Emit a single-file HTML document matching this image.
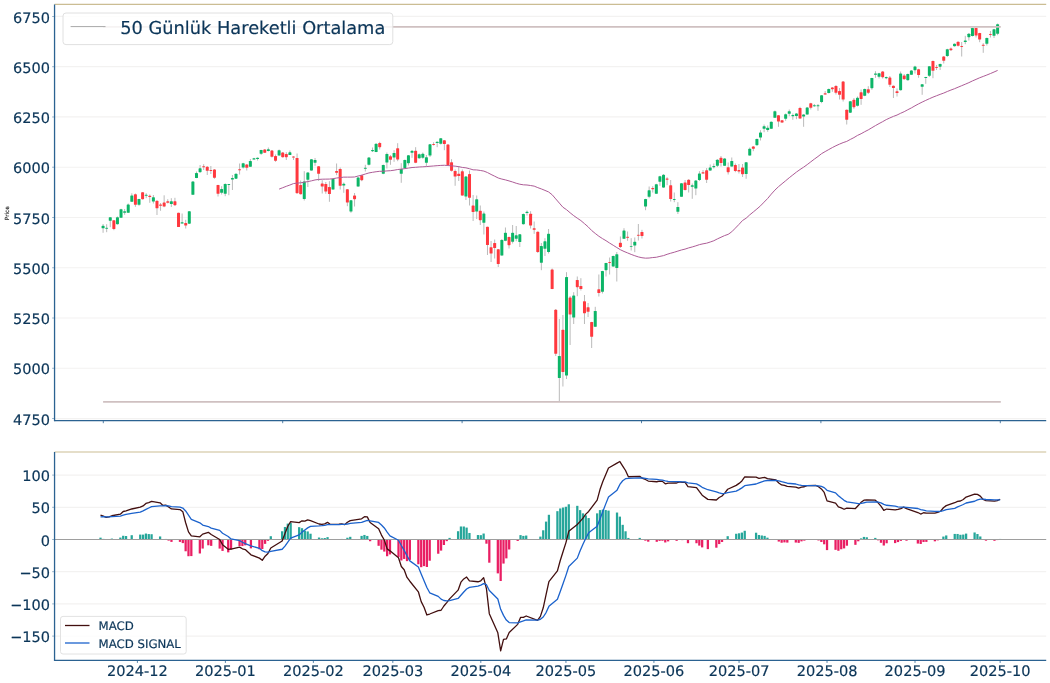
<!DOCTYPE html>
<html lang="tr"><head><meta charset="utf-8"><title>Grafik</title><style>html,body{margin:0;padding:0;background:#fff}svg{display:block}</style></head><body>
<svg width="1050" height="683" viewBox="0 0 1050 683" font-family="'DejaVu Sans', 'Liberation Sans', sans-serif" text-rendering="geometricPrecision">
<rect width="1050" height="683" fill="#fff"/>
<line x1="54.55" x2="1046.2" y1="418.53" y2="418.53" stroke="#f3f2f1" stroke-width="1.2"/>
<line x1="54.55" x2="1046.2" y1="368.27" y2="368.27" stroke="#f3f2f1" stroke-width="1.2"/>
<line x1="54.55" x2="1046.2" y1="318.01" y2="318.01" stroke="#f3f2f1" stroke-width="1.2"/>
<line x1="54.55" x2="1046.2" y1="267.75" y2="267.75" stroke="#f3f2f1" stroke-width="1.2"/>
<line x1="54.55" x2="1046.2" y1="217.49" y2="217.49" stroke="#f3f2f1" stroke-width="1.2"/>
<line x1="54.55" x2="1046.2" y1="167.23" y2="167.23" stroke="#f3f2f1" stroke-width="1.2"/>
<line x1="54.55" x2="1046.2" y1="116.97" y2="116.97" stroke="#f3f2f1" stroke-width="1.2"/>
<line x1="54.55" x2="1046.2" y1="66.71" y2="66.71" stroke="#f3f2f1" stroke-width="1.2"/>
<line x1="54.55" x2="1046.2" y1="16.45" y2="16.45" stroke="#f3f2f1" stroke-width="1.2"/>
<line x1="54.55" x2="1046.2" y1="636.10" y2="636.10" stroke="#f3f2f1" stroke-width="1.2"/>
<line x1="54.55" x2="1046.2" y1="603.90" y2="603.90" stroke="#f3f2f1" stroke-width="1.2"/>
<line x1="54.55" x2="1046.2" y1="571.70" y2="571.70" stroke="#f3f2f1" stroke-width="1.2"/>
<line x1="54.55" x2="1046.2" y1="507.30" y2="507.30" stroke="#f3f2f1" stroke-width="1.2"/>
<line x1="54.55" x2="1046.2" y1="475.10" y2="475.10" stroke="#f3f2f1" stroke-width="1.2"/>
<line x1="103.08" x2="103.08" y1="224.00" y2="232.80" stroke="#b2b2b2" stroke-width="0.9"/>
<rect x="101.58" y="225.80" width="3.0" height="2.50" fill="#0cb567" rx="0.6"/>
<line x1="106.67" x2="106.67" y1="224.20" y2="232.20" stroke="#b2b2b2" stroke-width="0.9"/>
<rect x="105.17" y="227.80" width="3.0" height="0.90" fill="#0cb567" rx="0.6"/>
<line x1="110.27" x2="110.27" y1="217.20" y2="227.20" stroke="#b2b2b2" stroke-width="0.9"/>
<rect x="108.77" y="217.20" width="3.0" height="3.60" fill="#0cb567" rx="0.6"/>
<line x1="113.86" x2="113.86" y1="220.20" y2="230.20" stroke="#b2b2b2" stroke-width="0.9"/>
<rect x="112.36" y="220.20" width="3.0" height="8.80" fill="#ff383e" rx="0.6"/>
<line x1="117.45" x2="117.45" y1="216.50" y2="224.50" stroke="#b2b2b2" stroke-width="0.9"/>
<rect x="115.95" y="217.20" width="3.0" height="7.00" fill="#0cb567" rx="0.6"/>
<line x1="121.04" x2="121.04" y1="208.80" y2="218.00" stroke="#b2b2b2" stroke-width="0.9"/>
<rect x="119.54" y="209.20" width="3.0" height="8.60" fill="#0cb567" rx="0.6"/>
<line x1="124.63" x2="124.63" y1="209.00" y2="214.80" stroke="#b2b2b2" stroke-width="0.9"/>
<rect x="123.13" y="211.20" width="3.0" height="1.60" fill="#0cb567" rx="0.6"/>
<line x1="128.23" x2="128.23" y1="203.50" y2="213.00" stroke="#b2b2b2" stroke-width="0.9"/>
<rect x="126.73" y="204.50" width="3.0" height="8.30" fill="#0cb567" rx="0.6"/>
<line x1="131.82" x2="131.82" y1="193.30" y2="202.00" stroke="#b2b2b2" stroke-width="0.9"/>
<rect x="130.32" y="195.50" width="3.0" height="6.30" fill="#0cb567" rx="0.6"/>
<line x1="135.41" x2="135.41" y1="193.50" y2="206.80" stroke="#b2b2b2" stroke-width="0.9"/>
<rect x="133.91" y="194.20" width="3.0" height="10.60" fill="#ff383e" rx="0.6"/>
<line x1="139.00" x2="139.00" y1="198.80" y2="205.80" stroke="#b2b2b2" stroke-width="0.9"/>
<rect x="137.50" y="199.00" width="3.0" height="5.80" fill="#0cb567" rx="0.6"/>
<line x1="142.60" x2="142.60" y1="192.00" y2="199.50" stroke="#b2b2b2" stroke-width="0.9"/>
<rect x="141.10" y="192.20" width="3.0" height="7.00" fill="#ff383e" rx="0.6"/>
<line x1="146.19" x2="146.19" y1="193.20" y2="198.20" stroke="#b2b2b2" stroke-width="0.9"/>
<rect x="144.69" y="194.70" width="3.0" height="1.10" fill="#0cb567" rx="0.6"/>
<line x1="149.78" x2="149.78" y1="194.50" y2="202.80" stroke="#b2b2b2" stroke-width="0.9"/>
<rect x="148.28" y="195.80" width="3.0" height="1.20" fill="#ff383e" rx="0.6"/>
<line x1="153.38" x2="153.38" y1="195.00" y2="203.50" stroke="#b2b2b2" stroke-width="0.9"/>
<rect x="151.88" y="197.20" width="3.0" height="4.30" fill="#0cb567" rx="0.6"/>
<line x1="156.97" x2="156.97" y1="200.50" y2="215.00" stroke="#b2b2b2" stroke-width="0.9"/>
<rect x="155.47" y="200.80" width="3.0" height="7.50" fill="#ff383e" rx="0.6"/>
<line x1="160.56" x2="160.56" y1="203.00" y2="210.80" stroke="#b2b2b2" stroke-width="0.9"/>
<rect x="159.06" y="204.50" width="3.0" height="1.30" fill="#ff383e" rx="0.6"/>
<line x1="164.15" x2="164.15" y1="195.30" y2="207.20" stroke="#b2b2b2" stroke-width="0.9"/>
<rect x="162.65" y="202.50" width="3.0" height="4.00" fill="#ff383e" rx="0.6"/>
<line x1="167.75" x2="167.75" y1="199.20" y2="203.50" stroke="#b2b2b2" stroke-width="0.9"/>
<rect x="166.25" y="201.20" width="3.0" height="1.60" fill="#ff383e" rx="0.6"/>
<line x1="171.34" x2="171.34" y1="198.20" y2="207.00" stroke="#b2b2b2" stroke-width="0.9"/>
<rect x="169.84" y="201.20" width="3.0" height="2.80" fill="#0cb567" rx="0.6"/>
<line x1="174.93" x2="174.93" y1="197.80" y2="205.80" stroke="#b2b2b2" stroke-width="0.9"/>
<rect x="173.43" y="201.20" width="3.0" height="4.00" fill="#ff383e" rx="0.6"/>
<line x1="178.52" x2="178.52" y1="212.80" y2="227.00" stroke="#b2b2b2" stroke-width="0.9"/>
<rect x="177.02" y="212.80" width="3.0" height="14.20" fill="#ff383e" rx="0.6"/>
<line x1="182.12" x2="182.12" y1="213.50" y2="223.80" stroke="#b2b2b2" stroke-width="0.9"/>
<rect x="180.62" y="222.20" width="3.0" height="1.30" fill="#0cb567" rx="0.6"/>
<line x1="185.71" x2="185.71" y1="219.80" y2="228.50" stroke="#b2b2b2" stroke-width="0.9"/>
<rect x="184.21" y="223.00" width="3.0" height="2.50" fill="#ff383e" rx="0.6"/>
<line x1="189.30" x2="189.30" y1="211.00" y2="224.00" stroke="#b2b2b2" stroke-width="0.9"/>
<rect x="187.80" y="211.20" width="3.0" height="12.50" fill="#0cb567" rx="0.6"/>
<line x1="192.89" x2="192.89" y1="181.20" y2="195.00" stroke="#b2b2b2" stroke-width="0.9"/>
<rect x="191.39" y="181.50" width="3.0" height="13.30" fill="#0cb567" rx="0.6"/>
<line x1="196.49" x2="196.49" y1="171.50" y2="178.20" stroke="#b2b2b2" stroke-width="0.9"/>
<rect x="194.99" y="173.00" width="3.0" height="5.00" fill="#0cb567" rx="0.6"/>
<line x1="200.08" x2="200.08" y1="165.00" y2="172.50" stroke="#b2b2b2" stroke-width="0.9"/>
<rect x="198.58" y="168.30" width="3.0" height="3.90" fill="#0cb567" rx="0.6"/>
<line x1="203.67" x2="203.67" y1="164.20" y2="170.00" stroke="#b2b2b2" stroke-width="0.9"/>
<rect x="202.17" y="166.20" width="3.0" height="1.00" fill="#ff383e" rx="0.6"/>
<line x1="207.26" x2="207.26" y1="166.20" y2="175.00" stroke="#b2b2b2" stroke-width="0.9"/>
<rect x="205.76" y="166.80" width="3.0" height="4.00" fill="#ff383e" rx="0.6"/>
<line x1="210.85" x2="210.85" y1="166.00" y2="174.00" stroke="#b2b2b2" stroke-width="0.9"/>
<rect x="209.35" y="170.00" width="3.0" height="0.90" fill="#ff383e" rx="0.6"/>
<line x1="214.45" x2="214.45" y1="169.00" y2="178.80" stroke="#b2b2b2" stroke-width="0.9"/>
<rect x="212.95" y="169.50" width="3.0" height="8.30" fill="#ff383e" rx="0.6"/>
<line x1="218.04" x2="218.04" y1="184.80" y2="196.50" stroke="#b2b2b2" stroke-width="0.9"/>
<rect x="216.54" y="185.00" width="3.0" height="8.80" fill="#ff383e" rx="0.6"/>
<line x1="221.63" x2="221.63" y1="186.20" y2="194.50" stroke="#b2b2b2" stroke-width="0.9"/>
<rect x="220.13" y="189.00" width="3.0" height="3.80" fill="#0cb567" rx="0.6"/>
<line x1="225.22" x2="225.22" y1="183.30" y2="196.20" stroke="#b2b2b2" stroke-width="0.9"/>
<rect x="223.72" y="184.00" width="3.0" height="9.80" fill="#0cb567" rx="0.6"/>
<line x1="228.82" x2="228.82" y1="184.00" y2="195.20" stroke="#b2b2b2" stroke-width="0.9"/>
<rect x="227.32" y="184.00" width="3.0" height="0.90" fill="#0cb567" rx="0.6"/>
<line x1="232.41" x2="232.41" y1="175.00" y2="190.00" stroke="#b2b2b2" stroke-width="0.9"/>
<rect x="230.91" y="178.00" width="3.0" height="1.60" fill="#0cb567" rx="0.6"/>
<line x1="236.00" x2="236.00" y1="173.50" y2="179.00" stroke="#b2b2b2" stroke-width="0.9"/>
<rect x="234.50" y="173.80" width="3.0" height="4.90" fill="#0cb567" rx="0.6"/>
<line x1="239.59" x2="239.59" y1="163.50" y2="174.50" stroke="#b2b2b2" stroke-width="0.9"/>
<rect x="238.09" y="169.20" width="3.0" height="1.00" fill="#ff383e" rx="0.6"/>
<line x1="243.19" x2="243.19" y1="162.80" y2="168.50" stroke="#b2b2b2" stroke-width="0.9"/>
<rect x="241.69" y="163.20" width="3.0" height="4.30" fill="#0cb567" rx="0.6"/>
<line x1="246.78" x2="246.78" y1="164.00" y2="170.50" stroke="#b2b2b2" stroke-width="0.9"/>
<rect x="245.28" y="164.50" width="3.0" height="3.30" fill="#ff383e" rx="0.6"/>
<line x1="250.37" x2="250.37" y1="159.00" y2="167.00" stroke="#b2b2b2" stroke-width="0.9"/>
<rect x="248.87" y="161.00" width="3.0" height="5.80" fill="#0cb567" rx="0.6"/>
<line x1="253.96" x2="253.96" y1="157.80" y2="159.80" stroke="#b2b2b2" stroke-width="0.9"/>
<rect x="252.46" y="158.20" width="3.0" height="1.30" fill="#0cb567" rx="0.6"/>
<line x1="257.56" x2="257.56" y1="157.50" y2="160.50" stroke="#b2b2b2" stroke-width="0.9"/>
<rect x="256.06" y="157.80" width="3.0" height="1.20" fill="#0cb567" rx="0.6"/>
<line x1="261.15" x2="261.15" y1="149.80" y2="154.80" stroke="#b2b2b2" stroke-width="0.9"/>
<rect x="259.65" y="150.00" width="3.0" height="3.80" fill="#0cb567" rx="0.6"/>
<line x1="264.74" x2="264.74" y1="149.00" y2="153.00" stroke="#b2b2b2" stroke-width="0.9"/>
<rect x="263.24" y="149.50" width="3.0" height="3.30" fill="#ff383e" rx="0.6"/>
<line x1="268.33" x2="268.33" y1="147.50" y2="151.50" stroke="#b2b2b2" stroke-width="0.9"/>
<rect x="266.83" y="149.30" width="3.0" height="1.70" fill="#0cb567" rx="0.6"/>
<line x1="271.93" x2="271.93" y1="150.00" y2="157.50" stroke="#b2b2b2" stroke-width="0.9"/>
<rect x="270.43" y="150.50" width="3.0" height="6.30" fill="#ff383e" rx="0.6"/>
<line x1="275.52" x2="275.52" y1="154.50" y2="161.80" stroke="#b2b2b2" stroke-width="0.9"/>
<rect x="274.02" y="156.00" width="3.0" height="4.80" fill="#ff383e" rx="0.6"/>
<line x1="279.11" x2="279.11" y1="149.50" y2="155.80" stroke="#b2b2b2" stroke-width="0.9"/>
<rect x="277.61" y="150.20" width="3.0" height="5.30" fill="#0cb567" rx="0.6"/>
<line x1="282.70" x2="282.70" y1="152.00" y2="157.50" stroke="#b2b2b2" stroke-width="0.9"/>
<rect x="281.20" y="152.50" width="3.0" height="4.70" fill="#ff383e" rx="0.6"/>
<line x1="286.30" x2="286.30" y1="152.20" y2="160.00" stroke="#b2b2b2" stroke-width="0.9"/>
<rect x="284.80" y="154.00" width="3.0" height="3.20" fill="#ff383e" rx="0.6"/>
<line x1="289.89" x2="289.89" y1="150.50" y2="155.00" stroke="#b2b2b2" stroke-width="0.9"/>
<rect x="288.39" y="152.30" width="3.0" height="2.70" fill="#0cb567" rx="0.6"/>
<line x1="293.48" x2="293.48" y1="156.20" y2="160.00" stroke="#b2b2b2" stroke-width="0.9"/>
<rect x="291.98" y="156.50" width="3.0" height="1.00" fill="#ff383e" rx="0.6"/>
<line x1="297.07" x2="297.07" y1="153.50" y2="193.50" stroke="#b2b2b2" stroke-width="0.9"/>
<rect x="295.57" y="158.00" width="3.0" height="35.20" fill="#ff383e" rx="0.6"/>
<line x1="300.67" x2="300.67" y1="180.50" y2="194.50" stroke="#b2b2b2" stroke-width="0.9"/>
<rect x="299.17" y="185.00" width="3.0" height="9.20" fill="#ff383e" rx="0.6"/>
<line x1="304.26" x2="304.26" y1="171.20" y2="200.50" stroke="#b2b2b2" stroke-width="0.9"/>
<rect x="302.76" y="181.50" width="3.0" height="17.50" fill="#0cb567" rx="0.6"/>
<line x1="307.85" x2="307.85" y1="172.20" y2="187.00" stroke="#b2b2b2" stroke-width="0.9"/>
<rect x="306.35" y="172.50" width="3.0" height="7.30" fill="#0cb567" rx="0.6"/>
<line x1="311.44" x2="311.44" y1="159.00" y2="170.80" stroke="#b2b2b2" stroke-width="0.9"/>
<rect x="309.94" y="159.30" width="3.0" height="11.20" fill="#0cb567" rx="0.6"/>
<line x1="315.04" x2="315.04" y1="158.00" y2="165.80" stroke="#b2b2b2" stroke-width="0.9"/>
<rect x="313.54" y="160.00" width="3.0" height="2.80" fill="#0cb567" rx="0.6"/>
<line x1="318.63" x2="318.63" y1="166.00" y2="181.00" stroke="#b2b2b2" stroke-width="0.9"/>
<rect x="317.13" y="166.30" width="3.0" height="7.50" fill="#ff383e" rx="0.6"/>
<line x1="322.22" x2="322.22" y1="180.20" y2="193.50" stroke="#b2b2b2" stroke-width="0.9"/>
<rect x="320.72" y="183.50" width="3.0" height="3.00" fill="#ff383e" rx="0.6"/>
<line x1="325.81" x2="325.81" y1="182.00" y2="193.80" stroke="#b2b2b2" stroke-width="0.9"/>
<rect x="324.31" y="184.00" width="3.0" height="7.50" fill="#ff383e" rx="0.6"/>
<line x1="329.41" x2="329.41" y1="181.20" y2="201.80" stroke="#b2b2b2" stroke-width="0.9"/>
<rect x="327.91" y="187.00" width="3.0" height="7.00" fill="#ff383e" rx="0.6"/>
<line x1="333.00" x2="333.00" y1="178.50" y2="189.80" stroke="#b2b2b2" stroke-width="0.9"/>
<rect x="331.50" y="179.00" width="3.0" height="10.50" fill="#0cb567" rx="0.6"/>
<line x1="336.59" x2="336.59" y1="163.50" y2="175.20" stroke="#b2b2b2" stroke-width="0.9"/>
<rect x="335.09" y="171.00" width="3.0" height="1.80" fill="#ff383e" rx="0.6"/>
<line x1="340.19" x2="340.19" y1="167.50" y2="189.50" stroke="#b2b2b2" stroke-width="0.9"/>
<rect x="338.69" y="169.00" width="3.0" height="16.80" fill="#ff383e" rx="0.6"/>
<line x1="343.78" x2="343.78" y1="182.50" y2="192.80" stroke="#b2b2b2" stroke-width="0.9"/>
<rect x="342.28" y="183.70" width="3.0" height="1.80" fill="#0cb567" rx="0.6"/>
<line x1="347.37" x2="347.37" y1="189.00" y2="206.20" stroke="#b2b2b2" stroke-width="0.9"/>
<rect x="345.87" y="189.20" width="3.0" height="13.30" fill="#ff383e" rx="0.6"/>
<line x1="350.96" x2="350.96" y1="200.00" y2="212.80" stroke="#b2b2b2" stroke-width="0.9"/>
<rect x="349.46" y="200.20" width="3.0" height="11.30" fill="#0cb567" rx="0.6"/>
<line x1="354.56" x2="354.56" y1="193.00" y2="206.50" stroke="#b2b2b2" stroke-width="0.9"/>
<rect x="353.06" y="195.50" width="3.0" height="3.70" fill="#ff383e" rx="0.6"/>
<line x1="358.15" x2="358.15" y1="177.00" y2="186.80" stroke="#b2b2b2" stroke-width="0.9"/>
<rect x="356.65" y="177.50" width="3.0" height="9.00" fill="#0cb567" rx="0.6"/>
<line x1="361.74" x2="361.74" y1="174.80" y2="181.20" stroke="#b2b2b2" stroke-width="0.9"/>
<rect x="360.24" y="175.20" width="3.0" height="5.00" fill="#ff383e" rx="0.6"/>
<line x1="365.33" x2="365.33" y1="164.80" y2="171.50" stroke="#b2b2b2" stroke-width="0.9"/>
<rect x="363.83" y="167.80" width="3.0" height="1.00" fill="#0cb567" rx="0.6"/>
<line x1="368.92" x2="368.92" y1="157.20" y2="165.50" stroke="#b2b2b2" stroke-width="0.9"/>
<rect x="367.42" y="157.50" width="3.0" height="7.30" fill="#0cb567" rx="0.6"/>
<line x1="372.52" x2="372.52" y1="147.50" y2="152.00" stroke="#b2b2b2" stroke-width="0.9"/>
<rect x="371.02" y="150.00" width="3.0" height="1.20" fill="#0cb567" rx="0.6"/>
<line x1="376.11" x2="376.11" y1="143.50" y2="152.20" stroke="#b2b2b2" stroke-width="0.9"/>
<rect x="374.61" y="143.80" width="3.0" height="8.20" fill="#0cb567" rx="0.6"/>
<line x1="379.70" x2="379.70" y1="141.80" y2="149.50" stroke="#b2b2b2" stroke-width="0.9"/>
<rect x="378.20" y="143.00" width="3.0" height="4.20" fill="#ff383e" rx="0.6"/>
<line x1="383.29" x2="383.29" y1="164.50" y2="174.20" stroke="#b2b2b2" stroke-width="0.9"/>
<rect x="381.79" y="165.00" width="3.0" height="8.80" fill="#0cb567" rx="0.6"/>
<line x1="386.89" x2="386.89" y1="152.50" y2="168.50" stroke="#b2b2b2" stroke-width="0.9"/>
<rect x="385.39" y="154.00" width="3.0" height="8.50" fill="#0cb567" rx="0.6"/>
<line x1="390.48" x2="390.48" y1="155.00" y2="164.80" stroke="#b2b2b2" stroke-width="0.9"/>
<rect x="388.98" y="156.20" width="3.0" height="3.60" fill="#ff383e" rx="0.6"/>
<line x1="394.07" x2="394.07" y1="150.20" y2="161.80" stroke="#b2b2b2" stroke-width="0.9"/>
<rect x="392.57" y="153.00" width="3.0" height="4.50" fill="#0cb567" rx="0.6"/>
<line x1="397.66" x2="397.66" y1="143.20" y2="161.20" stroke="#b2b2b2" stroke-width="0.9"/>
<rect x="396.16" y="148.20" width="3.0" height="11.30" fill="#ff383e" rx="0.6"/>
<line x1="401.26" x2="401.26" y1="163.20" y2="182.80" stroke="#b2b2b2" stroke-width="0.9"/>
<rect x="399.76" y="169.00" width="3.0" height="4.80" fill="#0cb567" rx="0.6"/>
<line x1="404.85" x2="404.85" y1="159.50" y2="168.50" stroke="#b2b2b2" stroke-width="0.9"/>
<rect x="403.35" y="160.00" width="3.0" height="8.20" fill="#0cb567" rx="0.6"/>
<line x1="408.44" x2="408.44" y1="155.00" y2="165.50" stroke="#b2b2b2" stroke-width="0.9"/>
<rect x="406.94" y="155.30" width="3.0" height="7.90" fill="#0cb567" rx="0.6"/>
<line x1="412.03" x2="412.03" y1="150.50" y2="157.80" stroke="#b2b2b2" stroke-width="0.9"/>
<rect x="410.53" y="150.80" width="3.0" height="2.00" fill="#0cb567" rx="0.6"/>
<line x1="415.63" x2="415.63" y1="147.20" y2="163.20" stroke="#b2b2b2" stroke-width="0.9"/>
<rect x="414.13" y="150.80" width="3.0" height="12.00" fill="#ff383e" rx="0.6"/>
<line x1="419.22" x2="419.22" y1="153.50" y2="158.80" stroke="#b2b2b2" stroke-width="0.9"/>
<rect x="417.72" y="154.20" width="3.0" height="4.10" fill="#0cb567" rx="0.6"/>
<line x1="422.81" x2="422.81" y1="152.50" y2="158.80" stroke="#b2b2b2" stroke-width="0.9"/>
<rect x="421.31" y="153.80" width="3.0" height="4.00" fill="#0cb567" rx="0.6"/>
<line x1="426.40" x2="426.40" y1="155.00" y2="166.50" stroke="#b2b2b2" stroke-width="0.9"/>
<rect x="424.90" y="157.20" width="3.0" height="5.60" fill="#0cb567" rx="0.6"/>
<line x1="430.00" x2="430.00" y1="144.00" y2="157.00" stroke="#b2b2b2" stroke-width="0.9"/>
<rect x="428.50" y="144.30" width="3.0" height="11.20" fill="#0cb567" rx="0.6"/>
<line x1="433.59" x2="433.59" y1="142.20" y2="145.50" stroke="#b2b2b2" stroke-width="0.9"/>
<rect x="432.09" y="144.00" width="3.0" height="0.90" fill="#ff383e" rx="0.6"/>
<line x1="437.18" x2="437.18" y1="141.50" y2="147.20" stroke="#b2b2b2" stroke-width="0.9"/>
<rect x="435.68" y="141.70" width="3.0" height="1.30" fill="#0cb567" rx="0.6"/>
<line x1="440.77" x2="440.77" y1="138.00" y2="144.50" stroke="#b2b2b2" stroke-width="0.9"/>
<rect x="439.27" y="138.20" width="3.0" height="5.60" fill="#0cb567" rx="0.6"/>
<line x1="444.37" x2="444.37" y1="140.00" y2="150.20" stroke="#b2b2b2" stroke-width="0.9"/>
<rect x="442.87" y="140.30" width="3.0" height="3.70" fill="#ff383e" rx="0.6"/>
<line x1="447.96" x2="447.96" y1="144.20" y2="165.20" stroke="#b2b2b2" stroke-width="0.9"/>
<rect x="446.46" y="144.50" width="3.0" height="20.50" fill="#ff383e" rx="0.6"/>
<line x1="451.55" x2="451.55" y1="159.20" y2="171.50" stroke="#b2b2b2" stroke-width="0.9"/>
<rect x="450.05" y="162.20" width="3.0" height="8.60" fill="#ff383e" rx="0.6"/>
<line x1="455.14" x2="455.14" y1="169.50" y2="185.80" stroke="#b2b2b2" stroke-width="0.9"/>
<rect x="453.64" y="171.00" width="3.0" height="5.50" fill="#ff383e" rx="0.6"/>
<line x1="458.74" x2="458.74" y1="166.00" y2="181.00" stroke="#b2b2b2" stroke-width="0.9"/>
<rect x="457.24" y="173.80" width="3.0" height="2.20" fill="#ff383e" rx="0.6"/>
<line x1="462.33" x2="462.33" y1="169.50" y2="195.80" stroke="#b2b2b2" stroke-width="0.9"/>
<rect x="460.83" y="171.20" width="3.0" height="24.30" fill="#ff383e" rx="0.6"/>
<line x1="465.92" x2="465.92" y1="176.00" y2="200.00" stroke="#b2b2b2" stroke-width="0.9"/>
<rect x="464.42" y="176.50" width="3.0" height="20.00" fill="#0cb567" rx="0.6"/>
<line x1="469.51" x2="469.51" y1="170.50" y2="205.50" stroke="#b2b2b2" stroke-width="0.9"/>
<rect x="468.01" y="174.00" width="3.0" height="23.80" fill="#ff383e" rx="0.6"/>
<line x1="473.11" x2="473.11" y1="195.00" y2="221.00" stroke="#b2b2b2" stroke-width="0.9"/>
<rect x="471.61" y="205.50" width="3.0" height="6.50" fill="#ff383e" rx="0.6"/>
<line x1="476.70" x2="476.70" y1="195.50" y2="219.00" stroke="#b2b2b2" stroke-width="0.9"/>
<rect x="475.20" y="199.20" width="3.0" height="12.30" fill="#0cb567" rx="0.6"/>
<line x1="480.29" x2="480.29" y1="205.50" y2="225.00" stroke="#b2b2b2" stroke-width="0.9"/>
<rect x="478.79" y="210.80" width="3.0" height="9.40" fill="#ff383e" rx="0.6"/>
<line x1="483.88" x2="483.88" y1="211.50" y2="234.50" stroke="#b2b2b2" stroke-width="0.9"/>
<rect x="482.38" y="213.50" width="3.0" height="9.30" fill="#0cb567" rx="0.6"/>
<line x1="487.48" x2="487.48" y1="226.80" y2="255.00" stroke="#b2b2b2" stroke-width="0.9"/>
<rect x="485.98" y="226.80" width="3.0" height="18.20" fill="#ff383e" rx="0.6"/>
<line x1="491.07" x2="491.07" y1="241.00" y2="262.00" stroke="#b2b2b2" stroke-width="0.9"/>
<rect x="489.57" y="247.20" width="3.0" height="6.30" fill="#ff383e" rx="0.6"/>
<line x1="494.66" x2="494.66" y1="239.50" y2="258.50" stroke="#b2b2b2" stroke-width="0.9"/>
<rect x="493.16" y="243.00" width="3.0" height="5.00" fill="#ff383e" rx="0.6"/>
<line x1="498.25" x2="498.25" y1="249.00" y2="267.00" stroke="#b2b2b2" stroke-width="0.9"/>
<rect x="496.75" y="249.20" width="3.0" height="14.80" fill="#ff383e" rx="0.6"/>
<line x1="501.85" x2="501.85" y1="239.00" y2="255.80" stroke="#b2b2b2" stroke-width="0.9"/>
<rect x="500.35" y="240.00" width="3.0" height="15.50" fill="#0cb567" rx="0.6"/>
<line x1="505.44" x2="505.44" y1="227.50" y2="241.20" stroke="#b2b2b2" stroke-width="0.9"/>
<rect x="503.94" y="232.80" width="3.0" height="8.00" fill="#0cb567" rx="0.6"/>
<line x1="509.03" x2="509.03" y1="236.50" y2="248.50" stroke="#b2b2b2" stroke-width="0.9"/>
<rect x="507.53" y="237.00" width="3.0" height="8.20" fill="#ff383e" rx="0.6"/>
<line x1="512.62" x2="512.62" y1="225.00" y2="243.50" stroke="#b2b2b2" stroke-width="0.9"/>
<rect x="511.12" y="232.80" width="3.0" height="9.00" fill="#0cb567" rx="0.6"/>
<line x1="516.22" x2="516.22" y1="226.00" y2="241.20" stroke="#b2b2b2" stroke-width="0.9"/>
<rect x="514.72" y="235.30" width="3.0" height="3.50" fill="#0cb567" rx="0.6"/>
<line x1="519.81" x2="519.81" y1="234.00" y2="247.00" stroke="#b2b2b2" stroke-width="0.9"/>
<rect x="518.31" y="234.30" width="3.0" height="7.70" fill="#0cb567" rx="0.6"/>
<line x1="523.40" x2="523.40" y1="213.50" y2="224.50" stroke="#b2b2b2" stroke-width="0.9"/>
<rect x="521.90" y="214.00" width="3.0" height="10.20" fill="#0cb567" rx="0.6"/>
<line x1="527.00" x2="527.00" y1="210.50" y2="215.50" stroke="#b2b2b2" stroke-width="0.9"/>
<rect x="525.50" y="211.80" width="3.0" height="1.20" fill="#0cb567" rx="0.6"/>
<line x1="530.59" x2="530.59" y1="211.20" y2="228.50" stroke="#b2b2b2" stroke-width="0.9"/>
<rect x="529.09" y="213.70" width="3.0" height="11.80" fill="#ff383e" rx="0.6"/>
<line x1="534.18" x2="534.18" y1="221.50" y2="233.80" stroke="#b2b2b2" stroke-width="0.9"/>
<rect x="532.68" y="228.20" width="3.0" height="1.60" fill="#ff383e" rx="0.6"/>
<line x1="537.77" x2="537.77" y1="231.50" y2="253.00" stroke="#b2b2b2" stroke-width="0.9"/>
<rect x="536.27" y="231.80" width="3.0" height="20.20" fill="#ff383e" rx="0.6"/>
<line x1="541.37" x2="541.37" y1="243.00" y2="270.20" stroke="#b2b2b2" stroke-width="0.9"/>
<rect x="539.87" y="246.00" width="3.0" height="16.80" fill="#0cb567" rx="0.6"/>
<line x1="544.96" x2="544.96" y1="238.20" y2="256.00" stroke="#b2b2b2" stroke-width="0.9"/>
<rect x="543.46" y="241.20" width="3.0" height="7.60" fill="#0cb567" rx="0.6"/>
<line x1="548.55" x2="548.55" y1="229.00" y2="253.50" stroke="#b2b2b2" stroke-width="0.9"/>
<rect x="547.05" y="233.80" width="3.0" height="18.20" fill="#0cb567" rx="0.6"/>
<line x1="552.14" x2="552.14" y1="268.50" y2="289.20" stroke="#b2b2b2" stroke-width="0.9"/>
<rect x="550.64" y="269.50" width="3.0" height="19.50" fill="#ff383e" rx="0.6"/>
<line x1="555.74" x2="555.74" y1="309.00" y2="356.00" stroke="#b2b2b2" stroke-width="0.9"/>
<rect x="554.24" y="309.80" width="3.0" height="44.00" fill="#ff383e" rx="0.6"/>
<line x1="559.33" x2="559.33" y1="319.00" y2="401.80" stroke="#b2b2b2" stroke-width="0.9"/>
<rect x="557.83" y="356.00" width="3.0" height="22.00" fill="#0cb567" rx="0.6"/>
<line x1="562.92" x2="562.92" y1="315.00" y2="386.50" stroke="#b2b2b2" stroke-width="0.9"/>
<rect x="561.42" y="329.80" width="3.0" height="42.20" fill="#ff383e" rx="0.6"/>
<line x1="566.51" x2="566.51" y1="272.20" y2="379.00" stroke="#b2b2b2" stroke-width="0.9"/>
<rect x="565.01" y="277.00" width="3.0" height="98.50" fill="#0cb567" rx="0.6"/>
<line x1="570.11" x2="570.11" y1="296.00" y2="345.00" stroke="#b2b2b2" stroke-width="0.9"/>
<rect x="568.61" y="297.50" width="3.0" height="17.10" fill="#ff383e" rx="0.6"/>
<line x1="573.70" x2="573.70" y1="292.20" y2="324.00" stroke="#b2b2b2" stroke-width="0.9"/>
<rect x="572.20" y="295.50" width="3.0" height="22.00" fill="#0cb567" rx="0.6"/>
<line x1="577.29" x2="577.29" y1="276.50" y2="296.20" stroke="#b2b2b2" stroke-width="0.9"/>
<rect x="575.79" y="280.00" width="3.0" height="7.20" fill="#ff383e" rx="0.6"/>
<line x1="580.88" x2="580.88" y1="278.20" y2="290.50" stroke="#b2b2b2" stroke-width="0.9"/>
<rect x="579.38" y="286.00" width="3.0" height="3.00" fill="#ff383e" rx="0.6"/>
<line x1="584.48" x2="584.48" y1="295.00" y2="324.00" stroke="#b2b2b2" stroke-width="0.9"/>
<rect x="582.98" y="301.20" width="3.0" height="12.10" fill="#ff383e" rx="0.6"/>
<line x1="588.07" x2="588.07" y1="303.00" y2="317.00" stroke="#b2b2b2" stroke-width="0.9"/>
<rect x="586.57" y="307.20" width="3.0" height="4.60" fill="#ff383e" rx="0.6"/>
<line x1="591.66" x2="591.66" y1="321.80" y2="348.00" stroke="#b2b2b2" stroke-width="0.9"/>
<rect x="590.16" y="322.00" width="3.0" height="14.80" fill="#ff383e" rx="0.6"/>
<line x1="595.25" x2="595.25" y1="306.80" y2="327.00" stroke="#b2b2b2" stroke-width="0.9"/>
<rect x="593.75" y="311.00" width="3.0" height="15.80" fill="#0cb567" rx="0.6"/>
<line x1="598.85" x2="598.85" y1="274.50" y2="296.50" stroke="#b2b2b2" stroke-width="0.9"/>
<rect x="597.35" y="289.20" width="3.0" height="3.80" fill="#ff383e" rx="0.6"/>
<line x1="602.44" x2="602.44" y1="270.80" y2="293.50" stroke="#b2b2b2" stroke-width="0.9"/>
<rect x="600.94" y="271.00" width="3.0" height="20.80" fill="#0cb567" rx="0.6"/>
<line x1="606.03" x2="606.03" y1="262.80" y2="276.50" stroke="#b2b2b2" stroke-width="0.9"/>
<rect x="604.53" y="263.00" width="3.0" height="7.20" fill="#0cb567" rx="0.6"/>
<line x1="609.62" x2="609.62" y1="257.50" y2="274.50" stroke="#b2b2b2" stroke-width="0.9"/>
<rect x="608.12" y="262.00" width="3.0" height="0.90" fill="#ff383e" rx="0.6"/>
<line x1="613.22" x2="613.22" y1="255.50" y2="266.80" stroke="#b2b2b2" stroke-width="0.9"/>
<rect x="611.72" y="256.00" width="3.0" height="10.50" fill="#0cb567" rx="0.6"/>
<line x1="616.81" x2="616.81" y1="252.00" y2="281.50" stroke="#b2b2b2" stroke-width="0.9"/>
<rect x="615.31" y="254.20" width="3.0" height="13.80" fill="#0cb567" rx="0.6"/>
<line x1="620.40" x2="620.40" y1="236.50" y2="248.00" stroke="#b2b2b2" stroke-width="0.9"/>
<rect x="618.90" y="242.80" width="3.0" height="4.20" fill="#ff383e" rx="0.6"/>
<line x1="623.99" x2="623.99" y1="228.20" y2="239.00" stroke="#b2b2b2" stroke-width="0.9"/>
<rect x="622.49" y="230.50" width="3.0" height="8.30" fill="#0cb567" rx="0.6"/>
<line x1="627.59" x2="627.59" y1="231.50" y2="240.80" stroke="#b2b2b2" stroke-width="0.9"/>
<rect x="626.09" y="236.80" width="3.0" height="1.00" fill="#ff383e" rx="0.6"/>
<line x1="631.18" x2="631.18" y1="238.20" y2="250.50" stroke="#b2b2b2" stroke-width="0.9"/>
<rect x="629.68" y="246.20" width="3.0" height="0.90" fill="#0cb567" rx="0.6"/>
<line x1="634.77" x2="634.77" y1="237.50" y2="252.20" stroke="#b2b2b2" stroke-width="0.9"/>
<rect x="633.27" y="241.80" width="3.0" height="3.70" fill="#0cb567" rx="0.6"/>
<line x1="638.36" x2="638.36" y1="224.00" y2="240.50" stroke="#b2b2b2" stroke-width="0.9"/>
<rect x="636.86" y="234.80" width="3.0" height="0.90" fill="#ff383e" rx="0.6"/>
<line x1="641.96" x2="641.96" y1="229.80" y2="238.50" stroke="#b2b2b2" stroke-width="0.9"/>
<rect x="640.46" y="232.00" width="3.0" height="4.00" fill="#ff383e" rx="0.6"/>
<line x1="645.55" x2="645.55" y1="198.80" y2="210.20" stroke="#b2b2b2" stroke-width="0.9"/>
<rect x="644.05" y="199.00" width="3.0" height="7.50" fill="#0cb567" rx="0.6"/>
<line x1="649.14" x2="649.14" y1="186.50" y2="198.20" stroke="#b2b2b2" stroke-width="0.9"/>
<rect x="647.64" y="190.20" width="3.0" height="6.60" fill="#0cb567" rx="0.6"/>
<line x1="652.73" x2="652.73" y1="186.20" y2="192.50" stroke="#b2b2b2" stroke-width="0.9"/>
<rect x="651.23" y="188.00" width="3.0" height="1.20" fill="#ff383e" rx="0.6"/>
<line x1="656.33" x2="656.33" y1="183.80" y2="194.00" stroke="#b2b2b2" stroke-width="0.9"/>
<rect x="654.83" y="184.20" width="3.0" height="9.60" fill="#0cb567" rx="0.6"/>
<line x1="659.92" x2="659.92" y1="175.80" y2="185.80" stroke="#b2b2b2" stroke-width="0.9"/>
<rect x="658.42" y="176.20" width="3.0" height="5.60" fill="#0cb567" rx="0.6"/>
<line x1="663.51" x2="663.51" y1="174.20" y2="188.00" stroke="#b2b2b2" stroke-width="0.9"/>
<rect x="662.01" y="174.80" width="3.0" height="12.70" fill="#0cb567" rx="0.6"/>
<line x1="667.10" x2="667.10" y1="177.20" y2="185.20" stroke="#b2b2b2" stroke-width="0.9"/>
<rect x="665.60" y="178.50" width="3.0" height="1.20" fill="#ff383e" rx="0.6"/>
<line x1="670.70" x2="670.70" y1="180.00" y2="201.50" stroke="#b2b2b2" stroke-width="0.9"/>
<rect x="669.20" y="185.20" width="3.0" height="13.80" fill="#ff383e" rx="0.6"/>
<line x1="674.29" x2="674.29" y1="192.50" y2="202.20" stroke="#b2b2b2" stroke-width="0.9"/>
<rect x="672.79" y="199.00" width="3.0" height="0.90" fill="#0cb567" rx="0.6"/>
<line x1="677.88" x2="677.88" y1="202.20" y2="214.00" stroke="#b2b2b2" stroke-width="0.9"/>
<rect x="676.38" y="207.00" width="3.0" height="4.80" fill="#0cb567" rx="0.6"/>
<line x1="681.47" x2="681.47" y1="183.00" y2="197.00" stroke="#b2b2b2" stroke-width="0.9"/>
<rect x="679.97" y="183.20" width="3.0" height="13.60" fill="#0cb567" rx="0.6"/>
<line x1="685.07" x2="685.07" y1="180.00" y2="190.50" stroke="#b2b2b2" stroke-width="0.9"/>
<rect x="683.57" y="182.50" width="3.0" height="7.50" fill="#ff383e" rx="0.6"/>
<line x1="688.66" x2="688.66" y1="179.20" y2="192.50" stroke="#b2b2b2" stroke-width="0.9"/>
<rect x="687.16" y="179.80" width="3.0" height="5.20" fill="#ff383e" rx="0.6"/>
<line x1="692.25" x2="692.25" y1="183.50" y2="198.80" stroke="#b2b2b2" stroke-width="0.9"/>
<rect x="690.75" y="185.20" width="3.0" height="1.60" fill="#0cb567" rx="0.6"/>
<line x1="695.84" x2="695.84" y1="180.20" y2="195.20" stroke="#b2b2b2" stroke-width="0.9"/>
<rect x="694.34" y="180.50" width="3.0" height="8.00" fill="#0cb567" rx="0.6"/>
<line x1="699.44" x2="699.44" y1="171.20" y2="181.00" stroke="#b2b2b2" stroke-width="0.9"/>
<rect x="697.94" y="173.50" width="3.0" height="6.50" fill="#0cb567" rx="0.6"/>
<line x1="703.03" x2="703.03" y1="170.00" y2="174.00" stroke="#b2b2b2" stroke-width="0.9"/>
<rect x="701.53" y="172.20" width="3.0" height="1.30" fill="#ff383e" rx="0.6"/>
<line x1="706.62" x2="706.62" y1="168.00" y2="183.00" stroke="#b2b2b2" stroke-width="0.9"/>
<rect x="705.12" y="170.30" width="3.0" height="9.50" fill="#ff383e" rx="0.6"/>
<line x1="710.21" x2="710.21" y1="164.50" y2="171.00" stroke="#b2b2b2" stroke-width="0.9"/>
<rect x="708.71" y="167.50" width="3.0" height="3.00" fill="#0cb567" rx="0.6"/>
<line x1="713.81" x2="713.81" y1="163.50" y2="168.50" stroke="#b2b2b2" stroke-width="0.9"/>
<rect x="712.31" y="166.00" width="3.0" height="1.20" fill="#0cb567" rx="0.6"/>
<line x1="717.40" x2="717.40" y1="159.20" y2="167.00" stroke="#b2b2b2" stroke-width="0.9"/>
<rect x="715.90" y="159.70" width="3.0" height="6.10" fill="#0cb567" rx="0.6"/>
<line x1="720.99" x2="720.99" y1="156.00" y2="166.50" stroke="#b2b2b2" stroke-width="0.9"/>
<rect x="719.49" y="157.80" width="3.0" height="5.20" fill="#ff383e" rx="0.6"/>
<line x1="724.58" x2="724.58" y1="158.20" y2="166.00" stroke="#b2b2b2" stroke-width="0.9"/>
<rect x="723.08" y="158.50" width="3.0" height="7.30" fill="#0cb567" rx="0.6"/>
<line x1="728.17" x2="728.17" y1="162.50" y2="174.50" stroke="#b2b2b2" stroke-width="0.9"/>
<rect x="726.67" y="167.20" width="3.0" height="5.00" fill="#ff383e" rx="0.6"/>
<line x1="731.77" x2="731.77" y1="157.50" y2="166.80" stroke="#b2b2b2" stroke-width="0.9"/>
<rect x="730.27" y="161.00" width="3.0" height="5.50" fill="#0cb567" rx="0.6"/>
<line x1="735.36" x2="735.36" y1="163.50" y2="172.20" stroke="#b2b2b2" stroke-width="0.9"/>
<rect x="733.86" y="165.00" width="3.0" height="6.00" fill="#ff383e" rx="0.6"/>
<line x1="738.95" x2="738.95" y1="164.00" y2="173.50" stroke="#b2b2b2" stroke-width="0.9"/>
<rect x="737.45" y="170.00" width="3.0" height="1.50" fill="#ff383e" rx="0.6"/>
<line x1="742.54" x2="742.54" y1="164.00" y2="177.00" stroke="#b2b2b2" stroke-width="0.9"/>
<rect x="741.04" y="167.50" width="3.0" height="6.70" fill="#ff383e" rx="0.6"/>
<line x1="746.14" x2="746.14" y1="162.00" y2="178.80" stroke="#b2b2b2" stroke-width="0.9"/>
<rect x="744.64" y="162.20" width="3.0" height="11.80" fill="#0cb567" rx="0.6"/>
<line x1="749.73" x2="749.73" y1="147.50" y2="155.80" stroke="#b2b2b2" stroke-width="0.9"/>
<rect x="748.23" y="148.80" width="3.0" height="6.70" fill="#0cb567" rx="0.6"/>
<line x1="753.32" x2="753.32" y1="146.00" y2="151.20" stroke="#b2b2b2" stroke-width="0.9"/>
<rect x="751.82" y="146.50" width="3.0" height="2.30" fill="#ff383e" rx="0.6"/>
<line x1="756.91" x2="756.91" y1="138.50" y2="145.50" stroke="#b2b2b2" stroke-width="0.9"/>
<rect x="755.41" y="139.00" width="3.0" height="6.20" fill="#0cb567" rx="0.6"/>
<line x1="760.51" x2="760.51" y1="130.20" y2="140.50" stroke="#b2b2b2" stroke-width="0.9"/>
<rect x="759.01" y="132.50" width="3.0" height="5.00" fill="#0cb567" rx="0.6"/>
<line x1="764.10" x2="764.10" y1="124.50" y2="132.20" stroke="#b2b2b2" stroke-width="0.9"/>
<rect x="762.60" y="126.20" width="3.0" height="2.60" fill="#0cb567" rx="0.6"/>
<line x1="767.69" x2="767.69" y1="125.50" y2="131.80" stroke="#b2b2b2" stroke-width="0.9"/>
<rect x="766.19" y="127.80" width="3.0" height="2.20" fill="#0cb567" rx="0.6"/>
<line x1="771.28" x2="771.28" y1="121.50" y2="129.00" stroke="#b2b2b2" stroke-width="0.9"/>
<rect x="769.78" y="121.80" width="3.0" height="7.00" fill="#0cb567" rx="0.6"/>
<line x1="774.88" x2="774.88" y1="110.50" y2="118.00" stroke="#b2b2b2" stroke-width="0.9"/>
<rect x="773.38" y="111.20" width="3.0" height="6.60" fill="#0cb567" rx="0.6"/>
<line x1="778.47" x2="778.47" y1="115.00" y2="126.80" stroke="#b2b2b2" stroke-width="0.9"/>
<rect x="776.97" y="115.20" width="3.0" height="6.30" fill="#ff383e" rx="0.6"/>
<line x1="782.06" x2="782.06" y1="120.00" y2="123.00" stroke="#b2b2b2" stroke-width="0.9"/>
<rect x="780.56" y="120.20" width="3.0" height="2.30" fill="#ff383e" rx="0.6"/>
<line x1="785.65" x2="785.65" y1="113.50" y2="120.80" stroke="#b2b2b2" stroke-width="0.9"/>
<rect x="784.15" y="114.20" width="3.0" height="4.60" fill="#0cb567" rx="0.6"/>
<line x1="789.25" x2="789.25" y1="109.50" y2="116.20" stroke="#b2b2b2" stroke-width="0.9"/>
<rect x="787.75" y="111.20" width="3.0" height="2.60" fill="#0cb567" rx="0.6"/>
<line x1="792.84" x2="792.84" y1="113.50" y2="119.80" stroke="#b2b2b2" stroke-width="0.9"/>
<rect x="791.34" y="115.00" width="3.0" height="1.20" fill="#0cb567" rx="0.6"/>
<line x1="796.43" x2="796.43" y1="113.00" y2="119.20" stroke="#b2b2b2" stroke-width="0.9"/>
<rect x="794.93" y="113.50" width="3.0" height="2.50" fill="#0cb567" rx="0.6"/>
<line x1="800.02" x2="800.02" y1="106.80" y2="118.80" stroke="#b2b2b2" stroke-width="0.9"/>
<rect x="798.52" y="108.00" width="3.0" height="10.50" fill="#ff383e" rx="0.6"/>
<line x1="803.62" x2="803.62" y1="114.20" y2="126.80" stroke="#b2b2b2" stroke-width="0.9"/>
<rect x="802.12" y="114.50" width="3.0" height="2.00" fill="#0cb567" rx="0.6"/>
<line x1="807.21" x2="807.21" y1="107.00" y2="114.80" stroke="#b2b2b2" stroke-width="0.9"/>
<rect x="805.71" y="107.50" width="3.0" height="7.00" fill="#0cb567" rx="0.6"/>
<line x1="810.80" x2="810.80" y1="102.80" y2="109.50" stroke="#b2b2b2" stroke-width="0.9"/>
<rect x="809.30" y="103.20" width="3.0" height="4.60" fill="#ff383e" rx="0.6"/>
<line x1="814.39" x2="814.39" y1="104.00" y2="106.80" stroke="#b2b2b2" stroke-width="0.9"/>
<rect x="812.89" y="105.20" width="3.0" height="1.00" fill="#0cb567" rx="0.6"/>
<line x1="817.99" x2="817.99" y1="104.00" y2="110.80" stroke="#b2b2b2" stroke-width="0.9"/>
<rect x="816.49" y="105.20" width="3.0" height="1.00" fill="#0cb567" rx="0.6"/>
<line x1="821.58" x2="821.58" y1="95.00" y2="103.20" stroke="#b2b2b2" stroke-width="0.9"/>
<rect x="820.08" y="95.20" width="3.0" height="6.80" fill="#0cb567" rx="0.6"/>
<line x1="825.17" x2="825.17" y1="91.00" y2="94.80" stroke="#b2b2b2" stroke-width="0.9"/>
<rect x="823.67" y="93.20" width="3.0" height="1.30" fill="#ff383e" rx="0.6"/>
<line x1="828.76" x2="828.76" y1="88.50" y2="93.50" stroke="#b2b2b2" stroke-width="0.9"/>
<rect x="827.26" y="89.00" width="3.0" height="4.00" fill="#0cb567" rx="0.6"/>
<line x1="832.36" x2="832.36" y1="87.00" y2="91.80" stroke="#b2b2b2" stroke-width="0.9"/>
<rect x="830.86" y="87.50" width="3.0" height="1.70" fill="#ff383e" rx="0.6"/>
<line x1="835.95" x2="835.95" y1="85.00" y2="94.50" stroke="#b2b2b2" stroke-width="0.9"/>
<rect x="834.45" y="86.00" width="3.0" height="6.80" fill="#ff383e" rx="0.6"/>
<line x1="839.54" x2="839.54" y1="88.00" y2="99.50" stroke="#b2b2b2" stroke-width="0.9"/>
<rect x="838.04" y="91.00" width="3.0" height="3.80" fill="#ff383e" rx="0.6"/>
<line x1="843.13" x2="843.13" y1="81.00" y2="101.50" stroke="#b2b2b2" stroke-width="0.9"/>
<rect x="841.63" y="81.50" width="3.0" height="18.00" fill="#ff383e" rx="0.6"/>
<line x1="846.73" x2="846.73" y1="109.50" y2="124.50" stroke="#b2b2b2" stroke-width="0.9"/>
<rect x="845.23" y="109.70" width="3.0" height="10.10" fill="#ff383e" rx="0.6"/>
<line x1="850.32" x2="850.32" y1="101.00" y2="113.00" stroke="#b2b2b2" stroke-width="0.9"/>
<rect x="848.82" y="101.20" width="3.0" height="11.50" fill="#0cb567" rx="0.6"/>
<line x1="853.91" x2="853.91" y1="98.00" y2="108.80" stroke="#b2b2b2" stroke-width="0.9"/>
<rect x="852.41" y="99.80" width="3.0" height="7.40" fill="#ff383e" rx="0.6"/>
<line x1="857.50" x2="857.50" y1="96.50" y2="106.50" stroke="#b2b2b2" stroke-width="0.9"/>
<rect x="856.00" y="97.80" width="3.0" height="8.00" fill="#0cb567" rx="0.6"/>
<line x1="861.10" x2="861.10" y1="89.50" y2="104.80" stroke="#b2b2b2" stroke-width="0.9"/>
<rect x="859.60" y="92.20" width="3.0" height="6.80" fill="#ff383e" rx="0.6"/>
<line x1="864.69" x2="864.69" y1="88.50" y2="96.20" stroke="#b2b2b2" stroke-width="0.9"/>
<rect x="863.19" y="89.00" width="3.0" height="6.80" fill="#0cb567" rx="0.6"/>
<line x1="868.28" x2="868.28" y1="86.20" y2="94.00" stroke="#b2b2b2" stroke-width="0.9"/>
<rect x="866.78" y="89.20" width="3.0" height="3.60" fill="#ff383e" rx="0.6"/>
<line x1="871.88" x2="871.88" y1="77.80" y2="89.80" stroke="#b2b2b2" stroke-width="0.9"/>
<rect x="870.38" y="78.00" width="3.0" height="10.20" fill="#0cb567" rx="0.6"/>
<line x1="875.47" x2="875.47" y1="71.20" y2="77.80" stroke="#b2b2b2" stroke-width="0.9"/>
<rect x="873.97" y="73.50" width="3.0" height="1.30" fill="#0cb567" rx="0.6"/>
<line x1="879.06" x2="879.06" y1="72.80" y2="78.50" stroke="#b2b2b2" stroke-width="0.9"/>
<rect x="877.56" y="73.20" width="3.0" height="3.60" fill="#0cb567" rx="0.6"/>
<line x1="882.65" x2="882.65" y1="71.00" y2="78.50" stroke="#b2b2b2" stroke-width="0.9"/>
<rect x="881.15" y="71.50" width="3.0" height="5.70" fill="#ff383e" rx="0.6"/>
<line x1="886.25" x2="886.25" y1="76.50" y2="79.20" stroke="#b2b2b2" stroke-width="0.9"/>
<rect x="884.75" y="77.00" width="3.0" height="1.20" fill="#0cb567" rx="0.6"/>
<line x1="889.84" x2="889.84" y1="76.00" y2="87.00" stroke="#b2b2b2" stroke-width="0.9"/>
<rect x="888.34" y="77.50" width="3.0" height="7.30" fill="#ff383e" rx="0.6"/>
<line x1="893.43" x2="893.43" y1="85.50" y2="98.00" stroke="#b2b2b2" stroke-width="0.9"/>
<rect x="891.93" y="85.80" width="3.0" height="2.20" fill="#ff383e" rx="0.6"/>
<line x1="897.02" x2="897.02" y1="88.50" y2="96.50" stroke="#b2b2b2" stroke-width="0.9"/>
<rect x="895.52" y="91.20" width="3.0" height="1.80" fill="#ff383e" rx="0.6"/>
<line x1="900.62" x2="900.62" y1="71.50" y2="90.50" stroke="#b2b2b2" stroke-width="0.9"/>
<rect x="899.12" y="73.50" width="3.0" height="16.70" fill="#0cb567" rx="0.6"/>
<line x1="904.21" x2="904.21" y1="74.00" y2="79.50" stroke="#b2b2b2" stroke-width="0.9"/>
<rect x="902.71" y="75.50" width="3.0" height="3.70" fill="#ff383e" rx="0.6"/>
<line x1="907.80" x2="907.80" y1="73.50" y2="80.50" stroke="#b2b2b2" stroke-width="0.9"/>
<rect x="906.30" y="74.00" width="3.0" height="6.20" fill="#0cb567" rx="0.6"/>
<line x1="911.39" x2="911.39" y1="70.00" y2="75.00" stroke="#b2b2b2" stroke-width="0.9"/>
<rect x="909.89" y="70.50" width="3.0" height="4.30" fill="#0cb567" rx="0.6"/>
<line x1="914.99" x2="914.99" y1="65.80" y2="73.50" stroke="#b2b2b2" stroke-width="0.9"/>
<rect x="913.49" y="66.50" width="3.0" height="3.70" fill="#0cb567" rx="0.6"/>
<line x1="918.58" x2="918.58" y1="68.80" y2="77.80" stroke="#b2b2b2" stroke-width="0.9"/>
<rect x="917.08" y="69.20" width="3.0" height="5.80" fill="#ff383e" rx="0.6"/>
<line x1="922.17" x2="922.17" y1="84.00" y2="94.80" stroke="#b2b2b2" stroke-width="0.9"/>
<rect x="920.67" y="84.20" width="3.0" height="2.60" fill="#0cb567" rx="0.6"/>
<line x1="925.76" x2="925.76" y1="76.80" y2="83.80" stroke="#b2b2b2" stroke-width="0.9"/>
<rect x="924.26" y="77.00" width="3.0" height="1.00" fill="#0cb567" rx="0.6"/>
<line x1="929.36" x2="929.36" y1="66.00" y2="77.00" stroke="#b2b2b2" stroke-width="0.9"/>
<rect x="927.86" y="66.20" width="3.0" height="9.60" fill="#0cb567" rx="0.6"/>
<line x1="932.95" x2="932.95" y1="60.50" y2="78.20" stroke="#b2b2b2" stroke-width="0.9"/>
<rect x="931.45" y="61.00" width="3.0" height="9.80" fill="#ff383e" rx="0.6"/>
<line x1="936.54" x2="936.54" y1="65.00" y2="70.00" stroke="#b2b2b2" stroke-width="0.9"/>
<rect x="935.04" y="67.00" width="3.0" height="0.90" fill="#ff383e" rx="0.6"/>
<line x1="940.13" x2="940.13" y1="63.50" y2="70.00" stroke="#b2b2b2" stroke-width="0.9"/>
<rect x="938.63" y="64.00" width="3.0" height="2.70" fill="#0cb567" rx="0.6"/>
<line x1="943.73" x2="943.73" y1="56.00" y2="63.50" stroke="#b2b2b2" stroke-width="0.9"/>
<rect x="942.23" y="56.50" width="3.0" height="4.30" fill="#ff383e" rx="0.6"/>
<line x1="947.32" x2="947.32" y1="48.80" y2="57.00" stroke="#b2b2b2" stroke-width="0.9"/>
<rect x="945.82" y="49.20" width="3.0" height="6.80" fill="#0cb567" rx="0.6"/>
<line x1="950.91" x2="950.91" y1="47.50" y2="50.80" stroke="#b2b2b2" stroke-width="0.9"/>
<rect x="949.41" y="48.50" width="3.0" height="1.70" fill="#ff383e" rx="0.6"/>
<line x1="954.50" x2="954.50" y1="43.50" y2="46.50" stroke="#b2b2b2" stroke-width="0.9"/>
<rect x="953.00" y="43.80" width="3.0" height="2.40" fill="#0cb567" rx="0.6"/>
<line x1="958.10" x2="958.10" y1="41.50" y2="46.50" stroke="#b2b2b2" stroke-width="0.9"/>
<rect x="956.60" y="41.80" width="3.0" height="4.00" fill="#ff383e" rx="0.6"/>
<line x1="961.69" x2="961.69" y1="42.00" y2="56.50" stroke="#b2b2b2" stroke-width="0.9"/>
<rect x="960.19" y="46.00" width="3.0" height="0.90" fill="#ff383e" rx="0.6"/>
<line x1="965.28" x2="965.28" y1="35.80" y2="44.20" stroke="#b2b2b2" stroke-width="0.9"/>
<rect x="963.78" y="40.50" width="3.0" height="1.50" fill="#0cb567" rx="0.6"/>
<line x1="968.87" x2="968.87" y1="33.00" y2="40.50" stroke="#b2b2b2" stroke-width="0.9"/>
<rect x="967.37" y="33.70" width="3.0" height="3.50" fill="#0cb567" rx="0.6"/>
<line x1="972.47" x2="972.47" y1="27.80" y2="36.50" stroke="#b2b2b2" stroke-width="0.9"/>
<rect x="970.97" y="28.00" width="3.0" height="8.00" fill="#0cb567" rx="0.6"/>
<line x1="976.06" x2="976.06" y1="27.80" y2="37.50" stroke="#b2b2b2" stroke-width="0.9"/>
<rect x="974.56" y="28.00" width="3.0" height="7.50" fill="#ff383e" rx="0.6"/>
<line x1="979.65" x2="979.65" y1="32.80" y2="42.20" stroke="#b2b2b2" stroke-width="0.9"/>
<rect x="978.15" y="33.00" width="3.0" height="6.50" fill="#ff383e" rx="0.6"/>
<line x1="983.24" x2="983.24" y1="43.20" y2="52.80" stroke="#b2b2b2" stroke-width="0.9"/>
<rect x="981.74" y="44.80" width="3.0" height="1.00" fill="#ff383e" rx="0.6"/>
<line x1="986.84" x2="986.84" y1="37.50" y2="45.50" stroke="#b2b2b2" stroke-width="0.9"/>
<rect x="985.34" y="38.00" width="3.0" height="5.80" fill="#0cb567" rx="0.6"/>
<line x1="990.43" x2="990.43" y1="31.00" y2="37.50" stroke="#b2b2b2" stroke-width="0.9"/>
<rect x="988.93" y="34.00" width="3.0" height="0.90" fill="#ff383e" rx="0.6"/>
<line x1="994.02" x2="994.02" y1="28.80" y2="38.00" stroke="#b2b2b2" stroke-width="0.9"/>
<rect x="992.52" y="29.20" width="3.0" height="6.60" fill="#0cb567" rx="0.6"/>
<line x1="997.61" x2="997.61" y1="23.50" y2="35.20" stroke="#b2b2b2" stroke-width="0.9"/>
<rect x="996.11" y="24.20" width="3.0" height="9.60" fill="#0cb567" rx="0.6"/>
<polyline fill="none" stroke="#ad5c96" stroke-width="1" stroke-linejoin="round" points="279.11,189.10 282.70,187.73 286.30,186.31 289.89,185.02 293.48,183.59 297.07,183.11 300.67,182.81 304.26,182.21 307.85,181.57 311.44,180.85 315.04,179.95 318.63,179.45 322.22,179.19 325.81,179.13 329.41,179.07 333.00,178.71 336.59,178.00 340.19,177.60 343.78,177.14 347.37,177.13 350.96,177.11 354.56,176.99 358.15,176.00 361.74,175.16 365.33,174.01 368.92,172.94 372.52,172.31 376.11,171.72 379.70,171.30 383.29,171.26 386.89,170.92 390.48,170.70 394.07,170.21 397.66,169.52 401.26,169.12 404.85,168.64 408.44,168.07 412.03,167.52 415.63,167.30 419.22,166.98 422.81,166.80 426.40,166.58 430.00,166.25 433.59,165.98 437.18,165.66 440.77,165.42 444.37,165.25 447.96,165.56 451.55,165.84 455.14,166.16 458.74,166.67 462.33,167.44 465.92,167.82 469.51,168.73 473.11,169.82 476.70,169.94 480.29,170.46 483.88,171.10 487.48,172.55 491.07,174.44 494.66,176.20 498.25,178.00 501.85,179.07 505.44,179.90 509.03,180.92 512.62,182.00 516.22,183.25 519.81,184.22 523.40,184.82 527.00,185.01 530.59,185.52 534.18,186.13 537.77,187.62 541.37,188.93 544.96,190.40 548.55,191.93 552.14,194.71 555.74,198.91 559.33,203.08 562.92,207.22 566.51,209.68 570.11,212.78 573.70,215.63 577.29,218.18 580.88,220.58 584.48,223.65 588.07,226.78 591.66,230.50 595.25,233.46 598.85,236.24 602.44,238.58 606.03,240.70 609.62,243.07 613.22,245.29 616.81,247.54 620.40,249.72 623.99,251.45 627.59,252.91 631.18,254.41 634.77,255.72 638.36,256.91 641.96,257.72 645.55,258.17 649.14,258.02 652.73,257.56 656.33,257.26 659.92,256.38 663.51,255.61 667.10,254.30 670.70,253.21 674.29,252.23 677.88,251.09 681.47,249.96 685.07,249.10 688.66,247.90 692.25,246.94 695.84,245.85 699.44,244.63 703.03,243.82 706.62,243.18 710.21,242.02 713.81,240.75 717.40,238.90 720.99,237.24 724.58,235.59 728.17,234.35 731.77,231.79 735.36,228.14 738.95,224.45 742.54,220.49 746.14,218.20 749.73,214.88 753.32,211.95 756.91,208.98 760.51,205.85 764.10,202.11 767.69,198.43 771.28,194.13 774.88,190.13 778.47,186.70 782.06,183.73 785.65,180.76 789.25,177.73 792.84,174.91 796.43,172.09 800.02,169.52 803.62,167.20 807.21,164.60 810.80,161.83 814.39,159.10 817.99,156.49 821.58,153.67 825.17,151.58 828.76,149.56 832.36,147.56 835.95,145.73 839.54,144.10 843.13,142.60 846.73,141.40 850.32,139.44 853.91,137.61 857.50,135.42 861.10,133.74 864.69,131.72 868.28,129.88 871.88,127.73 875.47,125.59 879.06,123.59 882.65,121.66 886.25,119.60 889.84,117.95 893.43,116.39 897.02,115.06 900.62,113.27 904.21,111.68 907.80,109.72 911.39,107.91 914.99,105.82 918.58,103.89 922.17,102.09 925.76,100.38 929.36,98.73 932.95,97.17 936.54,95.74 940.13,94.37 943.73,93.07 947.32,91.49 950.91,90.06 954.50,88.71 958.10,87.20 961.69,85.69 965.28,84.21 968.87,82.66 972.47,80.92 976.06,79.36 979.65,77.78 983.24,76.41 986.84,75.02 990.43,73.55 994.02,72.03 997.61,70.41"/>
<line x1="103.1" x2="1000.8" y1="26.9" y2="26.9" stroke="#cfc0c1" stroke-width="1.8"/>
<line x1="103.1" x2="1000.8" y1="401.8" y2="401.8" stroke="#cfc0c1" stroke-width="1.8"/>
<line x1="54.55" x2="1046.2" y1="4.4" y2="4.4" stroke="#cbbd93" stroke-width="1.2"/>
<line x1="54.55" x2="1046.2" y1="420.6" y2="420.6" stroke="#2b6291" stroke-width="1.3"/>
<line x1="54.55" x2="54.55" y1="4.4" y2="421.25" stroke="#2b6291" stroke-width="1.3"/>
<line x1="52.15" x2="54.55" y1="418.53" y2="418.53" stroke="#2b6291" stroke-width="0.8" opacity="0.6"/>
<text transform="translate(50.00,424.63) scale(1,1.0)" font-size="14.5" fill="#0b3558" stroke="#0b3558" stroke-width="0.18" text-anchor="end">4750</text>
<line x1="52.15" x2="54.55" y1="368.27" y2="368.27" stroke="#2b6291" stroke-width="0.8" opacity="0.6"/>
<text transform="translate(50.00,374.37) scale(1,1.0)" font-size="14.5" fill="#0b3558" stroke="#0b3558" stroke-width="0.18" text-anchor="end">5000</text>
<line x1="52.15" x2="54.55" y1="318.01" y2="318.01" stroke="#2b6291" stroke-width="0.8" opacity="0.6"/>
<text transform="translate(50.00,324.11) scale(1,1.0)" font-size="14.5" fill="#0b3558" stroke="#0b3558" stroke-width="0.18" text-anchor="end">5250</text>
<line x1="52.15" x2="54.55" y1="267.75" y2="267.75" stroke="#2b6291" stroke-width="0.8" opacity="0.6"/>
<text transform="translate(50.00,273.85) scale(1,1.0)" font-size="14.5" fill="#0b3558" stroke="#0b3558" stroke-width="0.18" text-anchor="end">5500</text>
<line x1="52.15" x2="54.55" y1="217.49" y2="217.49" stroke="#2b6291" stroke-width="0.8" opacity="0.6"/>
<text transform="translate(50.00,223.59) scale(1,1.0)" font-size="14.5" fill="#0b3558" stroke="#0b3558" stroke-width="0.18" text-anchor="end">5750</text>
<line x1="52.15" x2="54.55" y1="167.23" y2="167.23" stroke="#2b6291" stroke-width="0.8" opacity="0.6"/>
<text transform="translate(50.00,173.33) scale(1,1.0)" font-size="14.5" fill="#0b3558" stroke="#0b3558" stroke-width="0.18" text-anchor="end">6000</text>
<line x1="52.15" x2="54.55" y1="116.97" y2="116.97" stroke="#2b6291" stroke-width="0.8" opacity="0.6"/>
<text transform="translate(50.00,123.07) scale(1,1.0)" font-size="14.5" fill="#0b3558" stroke="#0b3558" stroke-width="0.18" text-anchor="end">6250</text>
<line x1="52.15" x2="54.55" y1="66.71" y2="66.71" stroke="#2b6291" stroke-width="0.8" opacity="0.6"/>
<text transform="translate(50.00,72.81) scale(1,1.0)" font-size="14.5" fill="#0b3558" stroke="#0b3558" stroke-width="0.18" text-anchor="end">6500</text>
<line x1="52.15" x2="54.55" y1="16.45" y2="16.45" stroke="#2b6291" stroke-width="0.8" opacity="0.6"/>
<text transform="translate(50.00,22.55) scale(1,1.0)" font-size="14.5" fill="#0b3558" stroke="#0b3558" stroke-width="0.18" text-anchor="end">6750</text>
<line x1="103.30" x2="103.30" y1="420.6" y2="423.20000000000005" stroke="#2b6291" stroke-width="0.8"/>
<line x1="282.70" x2="282.70" y1="420.6" y2="423.20000000000005" stroke="#2b6291" stroke-width="0.8"/>
<line x1="462.10" x2="462.10" y1="420.6" y2="423.20000000000005" stroke="#2b6291" stroke-width="0.8"/>
<line x1="641.50" x2="641.50" y1="420.6" y2="423.20000000000005" stroke="#2b6291" stroke-width="0.8"/>
<line x1="820.90" x2="820.90" y1="420.6" y2="423.20000000000005" stroke="#2b6291" stroke-width="0.8"/>
<line x1="1000.30" x2="1000.30" y1="420.6" y2="423.20000000000005" stroke="#2b6291" stroke-width="0.8"/>
<text transform="translate(9.3,213.2) rotate(-90)" font-size="5.7" fill="#000" stroke="#000" stroke-width="0.12" text-anchor="middle">Price</text>
<rect x="63" y="13" width="329.8" height="31.6" rx="3" fill="#fff" fill-opacity="0.8" stroke="#e0e0e0" stroke-width="1"/>
<line x1="70.6" x2="105.5" y1="26.6" y2="26.6" stroke="#a8a8a8" stroke-width="1"/>
<text transform="translate(120.30,34.00) scale(1,1.0)" font-size="17.78" fill="#0b3558" stroke="#0b3558" stroke-width="0.18" text-anchor="start">50 Günlük Hareketli Ortalama</text>
<rect x="99.38" y="537.65" width="2.26" height="1.85" fill="#26a69a"/>
<rect x="102.21" y="538.90" width="2.26" height="0.60" fill="#26a69a"/>
<rect x="105.05" y="539.50" width="2.26" height="0.41" fill="#e91e63"/>
<rect x="107.89" y="539.50" width="2.26" height="0.30" fill="#e91e63"/>
<rect x="110.73" y="538.60" width="2.26" height="0.90" fill="#26a69a"/>
<rect x="119.24" y="537.56" width="2.26" height="1.94" fill="#26a69a"/>
<rect x="122.08" y="535.78" width="2.26" height="3.72" fill="#26a69a"/>
<rect x="124.92" y="536.03" width="2.26" height="3.47" fill="#26a69a"/>
<rect x="130.59" y="535.20" width="2.26" height="4.30" fill="#26a69a"/>
<rect x="139.11" y="534.58" width="2.26" height="4.92" fill="#26a69a"/>
<rect x="141.95" y="534.61" width="2.26" height="4.89" fill="#26a69a"/>
<rect x="144.78" y="533.56" width="2.26" height="5.94" fill="#26a69a"/>
<rect x="147.62" y="534.05" width="2.26" height="5.45" fill="#26a69a"/>
<rect x="150.46" y="534.22" width="2.26" height="5.28" fill="#26a69a"/>
<rect x="158.97" y="536.44" width="2.26" height="3.06" fill="#26a69a"/>
<rect x="161.81" y="539.11" width="2.26" height="0.39" fill="#26a69a"/>
<rect x="164.65" y="538.95" width="2.26" height="0.55" fill="#26a69a"/>
<rect x="167.49" y="539.50" width="2.26" height="1.11" fill="#e91e63"/>
<rect x="170.33" y="539.50" width="2.26" height="2.40" fill="#e91e63"/>
<rect x="178.84" y="539.50" width="2.26" height="2.39" fill="#e91e63"/>
<rect x="181.68" y="539.50" width="2.26" height="3.61" fill="#e91e63"/>
<rect x="184.52" y="539.50" width="2.26" height="11.77" fill="#e91e63"/>
<rect x="187.35" y="539.50" width="2.26" height="16.73" fill="#e91e63"/>
<rect x="190.19" y="539.50" width="2.26" height="16.59" fill="#e91e63"/>
<rect x="198.71" y="539.50" width="2.26" height="13.98" fill="#e91e63"/>
<rect x="201.54" y="539.50" width="2.26" height="9.06" fill="#e91e63"/>
<rect x="207.22" y="539.50" width="2.26" height="5.78" fill="#e91e63"/>
<rect x="210.06" y="539.50" width="2.26" height="6.36" fill="#e91e63"/>
<rect x="218.57" y="539.50" width="2.26" height="9.09" fill="#e91e63"/>
<rect x="221.41" y="539.50" width="2.26" height="11.43" fill="#e91e63"/>
<rect x="227.09" y="539.50" width="2.26" height="12.86" fill="#e91e63"/>
<rect x="229.92" y="539.50" width="2.26" height="10.05" fill="#e91e63"/>
<rect x="238.44" y="539.50" width="2.26" height="6.50" fill="#e91e63"/>
<rect x="241.28" y="539.50" width="2.26" height="6.58" fill="#e91e63"/>
<rect x="244.11" y="539.50" width="2.26" height="5.83" fill="#e91e63"/>
<rect x="249.79" y="539.50" width="2.26" height="8.86" fill="#e91e63"/>
<rect x="258.30" y="539.50" width="2.26" height="9.77" fill="#e91e63"/>
<rect x="261.14" y="539.50" width="2.26" height="9.54" fill="#e91e63"/>
<rect x="263.98" y="539.50" width="2.26" height="4.35" fill="#e91e63"/>
<rect x="266.82" y="539.50" width="2.26" height="1.32" fill="#e91e63"/>
<rect x="269.66" y="536.20" width="2.26" height="3.30" fill="#26a69a"/>
<rect x="281.01" y="531.26" width="2.26" height="8.24" fill="#26a69a"/>
<rect x="283.85" y="526.97" width="2.26" height="12.53" fill="#26a69a"/>
<rect x="286.68" y="523.62" width="2.26" height="15.88" fill="#26a69a"/>
<rect x="289.52" y="523.02" width="2.26" height="16.48" fill="#26a69a"/>
<rect x="298.04" y="527.16" width="2.26" height="12.34" fill="#26a69a"/>
<rect x="300.87" y="528.19" width="2.26" height="11.31" fill="#26a69a"/>
<rect x="303.71" y="530.68" width="2.26" height="8.82" fill="#26a69a"/>
<rect x="306.55" y="531.41" width="2.26" height="8.09" fill="#26a69a"/>
<rect x="309.39" y="533.72" width="2.26" height="5.78" fill="#26a69a"/>
<rect x="317.90" y="537.53" width="2.26" height="1.97" fill="#26a69a"/>
<rect x="320.74" y="538.31" width="2.26" height="1.19" fill="#26a69a"/>
<rect x="323.58" y="538.02" width="2.26" height="1.48" fill="#26a69a"/>
<rect x="326.42" y="537.13" width="2.26" height="2.37" fill="#26a69a"/>
<rect x="329.25" y="539.28" width="2.26" height="0.30" fill="#26a69a"/>
<rect x="337.77" y="539.02" width="2.26" height="0.48" fill="#26a69a"/>
<rect x="340.61" y="538.94" width="2.26" height="0.56" fill="#26a69a"/>
<rect x="343.44" y="539.50" width="2.26" height="0.30" fill="#e91e63"/>
<rect x="346.28" y="537.74" width="2.26" height="1.76" fill="#26a69a"/>
<rect x="349.12" y="536.82" width="2.26" height="2.68" fill="#26a69a"/>
<rect x="360.47" y="535.90" width="2.26" height="3.60" fill="#26a69a"/>
<rect x="363.31" y="534.95" width="2.26" height="4.55" fill="#26a69a"/>
<rect x="366.15" y="535.94" width="2.26" height="3.56" fill="#26a69a"/>
<rect x="368.99" y="539.50" width="2.26" height="1.72" fill="#e91e63"/>
<rect x="377.50" y="539.50" width="2.26" height="6.29" fill="#e91e63"/>
<rect x="380.34" y="539.50" width="2.26" height="10.15" fill="#e91e63"/>
<rect x="383.18" y="539.50" width="2.26" height="12.07" fill="#e91e63"/>
<rect x="386.01" y="539.50" width="2.26" height="16.73" fill="#e91e63"/>
<rect x="388.85" y="539.50" width="2.26" height="14.95" fill="#e91e63"/>
<rect x="397.37" y="539.50" width="2.26" height="17.45" fill="#e91e63"/>
<rect x="400.20" y="539.50" width="2.26" height="20.99" fill="#e91e63"/>
<rect x="403.04" y="539.50" width="2.26" height="19.44" fill="#e91e63"/>
<rect x="405.88" y="539.50" width="2.26" height="21.64" fill="#e91e63"/>
<rect x="408.72" y="539.50" width="2.26" height="20.37" fill="#e91e63"/>
<rect x="417.23" y="539.50" width="2.26" height="24.75" fill="#e91e63"/>
<rect x="420.07" y="539.50" width="2.26" height="27.68" fill="#e91e63"/>
<rect x="422.91" y="539.50" width="2.26" height="26.63" fill="#e91e63"/>
<rect x="425.75" y="539.50" width="2.26" height="27.47" fill="#e91e63"/>
<rect x="428.58" y="539.50" width="2.26" height="21.22" fill="#e91e63"/>
<rect x="437.10" y="539.50" width="2.26" height="14.23" fill="#e91e63"/>
<rect x="439.94" y="539.50" width="2.26" height="11.11" fill="#e91e63"/>
<rect x="442.77" y="539.50" width="2.26" height="5.50" fill="#e91e63"/>
<rect x="445.61" y="539.50" width="2.26" height="1.65" fill="#e91e63"/>
<rect x="448.45" y="537.89" width="2.26" height="1.61" fill="#26a69a"/>
<rect x="456.96" y="531.22" width="2.26" height="8.28" fill="#26a69a"/>
<rect x="459.80" y="526.49" width="2.26" height="13.01" fill="#26a69a"/>
<rect x="462.64" y="526.50" width="2.26" height="13.00" fill="#26a69a"/>
<rect x="465.48" y="527.58" width="2.26" height="11.92" fill="#26a69a"/>
<rect x="468.32" y="532.98" width="2.26" height="6.52" fill="#26a69a"/>
<rect x="476.83" y="535.04" width="2.26" height="4.46" fill="#26a69a"/>
<rect x="479.67" y="535.16" width="2.26" height="4.34" fill="#26a69a"/>
<rect x="482.51" y="533.53" width="2.26" height="5.97" fill="#26a69a"/>
<rect x="485.34" y="539.50" width="2.26" height="4.20" fill="#e91e63"/>
<rect x="488.18" y="539.50" width="2.26" height="23.20" fill="#e91e63"/>
<rect x="496.70" y="539.50" width="2.26" height="33.87" fill="#e91e63"/>
<rect x="499.53" y="539.50" width="2.26" height="41.51" fill="#e91e63"/>
<rect x="502.37" y="539.50" width="2.26" height="24.07" fill="#e91e63"/>
<rect x="505.21" y="539.50" width="2.26" height="18.87" fill="#e91e63"/>
<rect x="508.05" y="539.50" width="2.26" height="9.98" fill="#e91e63"/>
<rect x="516.56" y="539.50" width="2.26" height="1.43" fill="#e91e63"/>
<rect x="519.40" y="535.11" width="2.26" height="4.39" fill="#26a69a"/>
<rect x="522.24" y="535.90" width="2.26" height="3.60" fill="#26a69a"/>
<rect x="525.08" y="535.54" width="2.26" height="3.96" fill="#26a69a"/>
<rect x="536.43" y="539.50" width="2.26" height="0.40" fill="#e91e63"/>
<rect x="539.27" y="536.60" width="2.26" height="2.90" fill="#26a69a"/>
<rect x="542.10" y="530.28" width="2.26" height="9.22" fill="#26a69a"/>
<rect x="544.94" y="521.60" width="2.26" height="17.90" fill="#26a69a"/>
<rect x="547.78" y="514.79" width="2.26" height="24.71" fill="#26a69a"/>
<rect x="556.29" y="511.17" width="2.26" height="28.33" fill="#26a69a"/>
<rect x="559.13" y="508.45" width="2.26" height="31.05" fill="#26a69a"/>
<rect x="561.97" y="507.53" width="2.26" height="31.97" fill="#26a69a"/>
<rect x="564.81" y="506.76" width="2.26" height="32.74" fill="#26a69a"/>
<rect x="567.65" y="504.29" width="2.26" height="35.21" fill="#26a69a"/>
<rect x="576.16" y="505.83" width="2.26" height="33.67" fill="#26a69a"/>
<rect x="579.00" y="510.12" width="2.26" height="29.38" fill="#26a69a"/>
<rect x="581.84" y="513.34" width="2.26" height="26.16" fill="#26a69a"/>
<rect x="584.67" y="515.40" width="2.26" height="24.10" fill="#26a69a"/>
<rect x="587.51" y="518.06" width="2.26" height="21.44" fill="#26a69a"/>
<rect x="596.03" y="513.36" width="2.26" height="26.14" fill="#26a69a"/>
<rect x="598.86" y="510.10" width="2.26" height="29.40" fill="#26a69a"/>
<rect x="601.70" y="509.58" width="2.26" height="29.92" fill="#26a69a"/>
<rect x="604.54" y="510.06" width="2.26" height="29.44" fill="#26a69a"/>
<rect x="607.38" y="510.59" width="2.26" height="28.91" fill="#26a69a"/>
<rect x="615.89" y="512.54" width="2.26" height="26.96" fill="#26a69a"/>
<rect x="618.73" y="516.62" width="2.26" height="22.88" fill="#26a69a"/>
<rect x="621.57" y="524.83" width="2.26" height="14.67" fill="#26a69a"/>
<rect x="624.41" y="531.28" width="2.26" height="8.22" fill="#26a69a"/>
<rect x="627.24" y="537.94" width="2.26" height="1.56" fill="#26a69a"/>
<rect x="638.60" y="537.89" width="2.26" height="1.61" fill="#26a69a"/>
<rect x="641.43" y="539.50" width="2.26" height="0.40" fill="#e91e63"/>
<rect x="644.27" y="539.50" width="2.26" height="1.17" fill="#e91e63"/>
<rect x="647.11" y="539.50" width="2.26" height="2.19" fill="#e91e63"/>
<rect x="655.62" y="539.50" width="2.26" height="2.31" fill="#e91e63"/>
<rect x="658.46" y="539.50" width="2.26" height="1.38" fill="#e91e63"/>
<rect x="661.30" y="539.50" width="2.26" height="1.27" fill="#e91e63"/>
<rect x="664.14" y="539.50" width="2.26" height="2.96" fill="#e91e63"/>
<rect x="666.98" y="539.50" width="2.26" height="1.89" fill="#e91e63"/>
<rect x="675.49" y="539.50" width="2.26" height="1.34" fill="#e91e63"/>
<rect x="678.33" y="539.50" width="2.26" height="0.30" fill="#e91e63"/>
<rect x="681.17" y="539.50" width="2.26" height="0.62" fill="#e91e63"/>
<rect x="684.00" y="539.50" width="2.26" height="0.48" fill="#e91e63"/>
<rect x="686.84" y="539.50" width="2.26" height="3.69" fill="#e91e63"/>
<rect x="695.36" y="539.50" width="2.26" height="3.74" fill="#e91e63"/>
<rect x="698.19" y="539.50" width="2.26" height="6.12" fill="#e91e63"/>
<rect x="701.03" y="539.50" width="2.26" height="7.89" fill="#e91e63"/>
<rect x="706.71" y="539.50" width="2.26" height="9.62" fill="#e91e63"/>
<rect x="715.22" y="539.50" width="2.26" height="8.19" fill="#e91e63"/>
<rect x="718.06" y="539.50" width="2.26" height="4.57" fill="#e91e63"/>
<rect x="720.90" y="539.50" width="2.26" height="2.48" fill="#e91e63"/>
<rect x="723.74" y="538.96" width="2.26" height="0.54" fill="#26a69a"/>
<rect x="726.57" y="536.18" width="2.26" height="3.32" fill="#26a69a"/>
<rect x="735.09" y="533.76" width="2.26" height="5.74" fill="#26a69a"/>
<rect x="737.93" y="533.30" width="2.26" height="6.20" fill="#26a69a"/>
<rect x="740.76" y="532.58" width="2.26" height="6.92" fill="#26a69a"/>
<rect x="743.60" y="530.78" width="2.26" height="8.72" fill="#26a69a"/>
<rect x="754.95" y="532.72" width="2.26" height="6.78" fill="#26a69a"/>
<rect x="757.79" y="534.99" width="2.26" height="4.51" fill="#26a69a"/>
<rect x="760.63" y="535.47" width="2.26" height="4.03" fill="#26a69a"/>
<rect x="763.47" y="535.90" width="2.26" height="3.60" fill="#26a69a"/>
<rect x="766.31" y="537.67" width="2.26" height="1.83" fill="#26a69a"/>
<rect x="774.82" y="539.10" width="2.26" height="0.40" fill="#26a69a"/>
<rect x="777.66" y="539.50" width="2.26" height="2.08" fill="#e91e63"/>
<rect x="780.50" y="539.50" width="2.26" height="3.24" fill="#e91e63"/>
<rect x="783.33" y="539.50" width="2.26" height="2.90" fill="#e91e63"/>
<rect x="786.17" y="539.50" width="2.26" height="3.11" fill="#e91e63"/>
<rect x="794.69" y="539.50" width="2.26" height="3.06" fill="#e91e63"/>
<rect x="797.52" y="539.50" width="2.26" height="3.38" fill="#e91e63"/>
<rect x="800.36" y="539.50" width="2.26" height="1.85" fill="#e91e63"/>
<rect x="803.20" y="539.50" width="2.26" height="1.15" fill="#e91e63"/>
<rect x="806.04" y="539.50" width="2.26" height="0.30" fill="#e91e63"/>
<rect x="814.55" y="539.34" width="2.26" height="0.30" fill="#26a69a"/>
<rect x="817.39" y="539.50" width="2.26" height="0.96" fill="#e91e63"/>
<rect x="820.23" y="539.50" width="2.26" height="2.51" fill="#e91e63"/>
<rect x="823.07" y="539.50" width="2.26" height="4.80" fill="#e91e63"/>
<rect x="825.90" y="539.50" width="2.26" height="10.60" fill="#e91e63"/>
<rect x="834.42" y="539.50" width="2.26" height="10.33" fill="#e91e63"/>
<rect x="837.26" y="539.50" width="2.26" height="11.27" fill="#e91e63"/>
<rect x="840.09" y="539.50" width="2.26" height="9.75" fill="#e91e63"/>
<rect x="842.93" y="539.50" width="2.26" height="8.91" fill="#e91e63"/>
<rect x="845.77" y="539.50" width="2.26" height="6.22" fill="#e91e63"/>
<rect x="854.28" y="539.50" width="2.26" height="5.33" fill="#e91e63"/>
<rect x="857.12" y="539.50" width="2.26" height="1.80" fill="#e91e63"/>
<rect x="859.96" y="538.40" width="2.26" height="1.10" fill="#26a69a"/>
<rect x="862.80" y="536.91" width="2.26" height="2.59" fill="#26a69a"/>
<rect x="865.64" y="537.26" width="2.26" height="2.24" fill="#26a69a"/>
<rect x="874.15" y="537.90" width="2.26" height="1.60" fill="#26a69a"/>
<rect x="876.99" y="539.50" width="2.26" height="0.82" fill="#e91e63"/>
<rect x="879.83" y="539.50" width="2.26" height="3.29" fill="#e91e63"/>
<rect x="882.66" y="539.50" width="2.26" height="6.02" fill="#e91e63"/>
<rect x="885.50" y="539.50" width="2.26" height="3.76" fill="#e91e63"/>
<rect x="894.02" y="539.50" width="2.26" height="3.61" fill="#e91e63"/>
<rect x="896.85" y="539.50" width="2.26" height="2.58" fill="#e91e63"/>
<rect x="899.69" y="539.50" width="2.26" height="1.37" fill="#e91e63"/>
<rect x="902.53" y="539.50" width="2.26" height="0.30" fill="#e91e63"/>
<rect x="905.37" y="539.50" width="2.26" height="1.21" fill="#e91e63"/>
<rect x="916.72" y="539.50" width="2.26" height="4.06" fill="#e91e63"/>
<rect x="919.56" y="539.50" width="2.26" height="4.45" fill="#e91e63"/>
<rect x="922.40" y="539.50" width="2.26" height="2.52" fill="#e91e63"/>
<rect x="925.23" y="539.50" width="2.26" height="2.39" fill="#e91e63"/>
<rect x="933.75" y="539.50" width="2.26" height="1.81" fill="#e91e63"/>
<rect x="936.59" y="539.50" width="2.26" height="0.85" fill="#e91e63"/>
<rect x="939.42" y="539.31" width="2.26" height="0.30" fill="#26a69a"/>
<rect x="942.26" y="536.55" width="2.26" height="2.95" fill="#26a69a"/>
<rect x="945.10" y="535.44" width="2.26" height="4.06" fill="#26a69a"/>
<rect x="953.61" y="533.92" width="2.26" height="5.58" fill="#26a69a"/>
<rect x="956.45" y="533.96" width="2.26" height="5.54" fill="#26a69a"/>
<rect x="959.29" y="534.77" width="2.26" height="4.73" fill="#26a69a"/>
<rect x="962.13" y="534.55" width="2.26" height="4.95" fill="#26a69a"/>
<rect x="964.97" y="533.60" width="2.26" height="5.90" fill="#26a69a"/>
<rect x="973.48" y="532.48" width="2.26" height="7.02" fill="#26a69a"/>
<rect x="976.32" y="534.03" width="2.26" height="5.47" fill="#26a69a"/>
<rect x="979.16" y="536.46" width="2.26" height="3.04" fill="#26a69a"/>
<rect x="981.99" y="539.50" width="2.26" height="0.31" fill="#e91e63"/>
<rect x="984.83" y="539.50" width="2.26" height="1.16" fill="#e91e63"/>
<rect x="993.35" y="539.50" width="2.26" height="1.30" fill="#e91e63"/>
<rect x="996.18" y="539.50" width="2.26" height="0.58" fill="#e91e63"/>
<rect x="999.02" y="538.94" width="2.26" height="0.56" fill="#26a69a"/>
<line x1="54.55" x2="1046.2" y1="539.5" y2="539.5" stroke="#9e9e9e" stroke-width="1.1"/>
<polyline fill="none" stroke="#420f0f" stroke-width="1.3" stroke-linejoin="round" points="100.51,515.07 103.34,516.16 106.18,517.28 109.02,516.88 111.86,515.75 120.37,514.21 123.21,511.51 126.05,510.89 131.72,508.99 140.24,507.13 143.08,505.94 145.91,503.40 148.75,502.54 151.59,501.39 160.10,502.84 162.94,505.41 165.78,505.11 168.62,507.06 171.46,508.95 179.97,509.53 182.81,511.65 185.65,522.75 188.48,531.90 191.32,535.91 199.84,536.79 202.67,534.14 208.35,532.30 211.19,534.47 219.70,539.47 222.54,544.67 228.22,549.32 231.05,549.02 239.57,547.09 242.41,548.81 245.24,549.52 250.92,554.77 259.43,558.11 262.27,560.27 265.11,556.18 267.95,553.47 270.79,548.02 282.14,541.02 284.98,533.60 287.81,526.28 290.65,521.55 299.17,522.61 302.00,520.82 304.84,521.11 307.68,519.81 310.52,520.67 319.03,523.99 321.87,524.47 324.71,523.82 327.55,522.33 330.38,524.43 338.90,524.05 341.74,523.83 344.57,524.70 347.41,522.25 350.25,520.66 361.60,518.84 364.44,516.75 367.28,516.85 370.12,522.56 378.63,528.71 381.47,535.10 384.31,540.04 387.14,548.88 389.98,550.84 398.50,557.70 401.33,566.49 404.17,569.79 407.01,577.41 409.85,581.23 418.36,591.80 421.20,601.65 424.04,607.26 426.88,614.97 429.71,614.02 438.23,610.58 441.07,610.25 443.90,606.01 446.74,602.58 449.58,598.91 458.09,590.17 460.93,582.18 463.77,578.94 466.61,577.05 469.45,580.82 477.96,581.76 480.80,580.79 483.64,577.67 486.47,588.90 489.31,613.69 497.83,632.83 500.66,650.85 503.50,639.42 506.34,638.94 509.18,632.55 517.69,624.36 520.53,617.44 523.37,617.33 526.21,615.98 537.56,620.44 540.40,616.42 543.23,607.79 546.07,594.63 548.91,581.65 557.42,570.95 560.26,560.46 563.10,551.55 565.94,542.59 568.78,531.32 577.29,524.45 580.13,521.39 582.97,518.07 585.80,514.10 588.64,511.41 597.16,500.17 599.99,489.56 602.83,481.56 605.67,474.68 608.51,467.98 617.02,463.19 619.86,461.55 622.70,466.10 625.54,470.49 628.37,476.76 639.73,476.31 642.56,478.42 645.40,479.48 648.24,481.05 656.75,481.75 659.59,481.17 662.43,481.37 665.27,483.80 668.11,483.20 676.62,482.99 679.46,481.86 682.30,482.47 685.13,482.45 687.97,486.59 696.49,487.57 699.32,491.48 702.16,495.22 707.84,499.35 716.35,499.98 719.19,497.49 722.03,496.02 724.87,492.86 727.70,489.26 736.22,485.40 739.06,483.40 741.89,480.94 744.73,476.97 756.08,477.20 758.92,478.35 761.76,477.83 764.60,477.36 767.44,478.66 775.95,480.00 778.79,483.00 781.63,484.97 784.46,485.35 787.30,486.34 795.82,487.06 798.65,488.22 801.49,487.16 804.33,486.74 807.17,485.61 815.68,485.39 818.52,486.76 821.36,488.94 824.20,492.43 827.03,500.88 835.55,503.19 838.39,506.95 841.22,507.86 844.06,509.25 846.90,508.12 855.41,508.56 858.25,505.48 861.09,502.31 863.93,500.17 866.77,499.96 875.28,500.20 878.12,502.82 880.96,506.12 883.79,510.36 886.63,509.03 895.15,509.79 897.98,509.40 900.82,508.54 903.66,507.19 906.50,508.68 917.85,512.55 920.69,514.05 923.53,512.75 926.36,513.22 934.88,513.09 937.72,512.34 940.55,511.25 943.39,507.75 946.23,505.63 954.74,502.72 957.58,501.36 960.42,501.00 963.26,499.54 966.10,497.11 974.61,494.23 977.45,494.42 980.29,496.09 983.12,499.51 985.96,500.65 994.48,501.12 997.31,500.54 1000.15,499.26"/>
<polyline fill="none" stroke="#1b62cc" stroke-width="1.3" stroke-linejoin="round" points="100.51,516.91 103.34,516.76 106.18,516.87 109.02,516.87 111.86,516.64 120.37,516.16 123.21,515.23 126.05,514.36 131.72,513.29 140.24,512.06 143.08,510.83 145.91,509.35 148.75,507.99 151.59,506.67 160.10,505.90 162.94,505.80 165.78,505.66 168.62,505.94 171.46,506.54 179.97,507.14 182.81,508.04 185.65,510.98 188.48,515.17 191.32,519.32 199.84,522.81 202.67,525.08 208.35,526.52 211.19,528.11 219.70,530.38 222.54,533.24 228.22,536.45 231.05,538.97 239.57,540.59 242.41,542.23 245.24,543.69 250.92,545.91 259.43,548.35 262.27,550.73 265.11,551.82 267.95,552.15 270.79,551.32 282.14,549.26 284.98,546.13 287.81,542.16 290.65,538.04 299.17,534.95 302.00,532.13 304.84,529.92 307.68,527.90 310.52,526.45 319.03,525.96 321.87,525.66 324.71,525.29 327.55,524.70 330.38,524.65 338.90,524.53 341.74,524.39 344.57,524.45 347.41,524.01 350.25,523.34 361.60,522.44 364.44,521.30 367.28,520.41 370.12,520.84 378.63,522.42 381.47,524.95 384.31,527.97 387.14,532.15 389.98,535.89 398.50,540.25 401.33,545.50 404.17,550.36 407.01,555.77 409.85,560.86 418.36,567.05 421.20,573.97 424.04,580.63 426.88,587.50 429.71,592.80 438.23,596.36 441.07,599.13 443.90,600.51 446.74,600.92 449.58,600.52 458.09,598.45 460.93,595.20 463.77,591.95 466.61,588.97 469.45,587.34 477.96,586.22 480.80,585.14 483.64,583.64 486.47,584.69 489.31,590.49 497.83,598.96 500.66,609.34 503.50,615.36 506.34,620.07 509.18,622.57 517.69,622.93 520.53,621.83 523.37,620.93 526.21,619.94 537.56,620.04 540.40,619.32 543.23,617.01 546.07,612.54 548.91,606.36 557.42,599.28 560.26,591.51 563.10,583.52 565.94,575.34 568.78,566.53 577.29,558.12 580.13,550.77 582.97,544.23 585.80,538.20 588.64,532.85 597.16,526.31 599.99,518.96 602.83,511.48 605.67,504.12 608.51,496.89 617.02,490.15 619.86,484.43 622.70,480.76 625.54,478.71 628.37,478.32 639.73,477.92 642.56,478.02 645.40,478.31 648.24,478.86 656.75,479.44 659.59,479.78 662.43,480.10 665.27,480.84 668.11,481.31 676.62,481.65 679.46,481.69 682.30,481.85 685.13,481.97 687.97,482.89 696.49,483.83 699.32,485.36 702.16,487.33 707.84,489.73 716.35,491.78 719.19,492.92 722.03,493.54 724.87,493.41 727.70,492.58 736.22,491.14 739.06,489.59 741.89,487.86 744.73,485.68 756.08,483.99 758.92,482.86 761.76,481.86 764.60,480.96 767.44,480.50 775.95,480.40 778.79,480.92 781.63,481.73 784.46,482.45 787.30,483.23 795.82,484.00 798.65,484.84 801.49,485.30 804.33,485.59 807.17,485.60 815.68,485.56 818.52,485.80 821.36,486.42 824.20,487.62 827.03,490.28 835.55,492.86 838.39,495.68 841.22,498.11 844.06,500.34 846.90,501.90 855.41,503.23 858.25,503.68 861.09,503.41 863.93,502.76 866.77,502.20 875.28,501.80 878.12,502.00 880.96,502.83 883.79,504.33 886.63,505.27 895.15,506.18 897.98,506.82 900.82,507.16 903.66,507.17 906.50,507.47 917.85,508.49 920.69,509.60 923.53,510.23 926.36,510.83 934.88,511.28 937.72,511.49 940.55,511.44 943.39,510.71 946.23,509.69 954.74,508.30 957.58,506.91 960.42,505.73 963.26,504.49 966.10,503.01 974.61,501.26 977.45,499.89 980.29,499.13 983.12,499.21 985.96,499.50 994.48,499.82 997.31,499.96 1000.15,499.82"/>
<line x1="54.55" x2="1046.2" y1="452.0" y2="452.0" stroke="#cbbd93" stroke-width="1.2"/>
<line x1="54.55" x2="1046.2" y1="660.3" y2="660.3" stroke="#2b6291" stroke-width="1.3"/>
<line x1="54.55" x2="54.55" y1="452.0" y2="660.9499999999999" stroke="#2b6291" stroke-width="1.3"/>
<line x1="52.15" x2="54.55" y1="636.10" y2="636.10" stroke="#2b6291" stroke-width="0.8" opacity="0.6"/>
<text transform="translate(50.00,642.20) scale(1,1.0)" font-size="14.5" fill="#0b3558" stroke="#0b3558" stroke-width="0.18" text-anchor="end">−150</text>
<line x1="52.15" x2="54.55" y1="603.90" y2="603.90" stroke="#2b6291" stroke-width="0.8" opacity="0.6"/>
<text transform="translate(50.00,610.00) scale(1,1.0)" font-size="14.5" fill="#0b3558" stroke="#0b3558" stroke-width="0.18" text-anchor="end">−100</text>
<line x1="52.15" x2="54.55" y1="571.70" y2="571.70" stroke="#2b6291" stroke-width="0.8" opacity="0.6"/>
<text transform="translate(50.00,577.80) scale(1,1.0)" font-size="14.5" fill="#0b3558" stroke="#0b3558" stroke-width="0.18" text-anchor="end">−50</text>
<line x1="52.15" x2="54.55" y1="539.50" y2="539.50" stroke="#2b6291" stroke-width="0.8" opacity="0.6"/>
<text transform="translate(50.00,545.60) scale(1,1.0)" font-size="14.5" fill="#0b3558" stroke="#0b3558" stroke-width="0.18" text-anchor="end">0</text>
<line x1="52.15" x2="54.55" y1="507.30" y2="507.30" stroke="#2b6291" stroke-width="0.8" opacity="0.6"/>
<text transform="translate(50.00,513.40) scale(1,1.0)" font-size="14.5" fill="#0b3558" stroke="#0b3558" stroke-width="0.18" text-anchor="end">50</text>
<line x1="52.15" x2="54.55" y1="475.10" y2="475.10" stroke="#2b6291" stroke-width="0.8" opacity="0.6"/>
<text transform="translate(50.00,481.20) scale(1,1.0)" font-size="14.5" fill="#0b3558" stroke="#0b3558" stroke-width="0.18" text-anchor="end">100</text>
<line x1="137.40" x2="137.40" y1="660.3" y2="662.9" stroke="#2b6291" stroke-width="0.8"/>
<text transform="translate(137.40,675.60) scale(1,1.0)" font-size="14.55" fill="#0b3558" stroke="#0b3558" stroke-width="0.18" text-anchor="middle">2024-12</text>
<line x1="225.38" x2="225.38" y1="660.3" y2="662.9" stroke="#2b6291" stroke-width="0.8"/>
<text transform="translate(225.38,675.60) scale(1,1.0)" font-size="14.55" fill="#0b3558" stroke="#0b3558" stroke-width="0.18" text-anchor="middle">2025-01</text>
<line x1="313.36" x2="313.36" y1="660.3" y2="662.9" stroke="#2b6291" stroke-width="0.8"/>
<text transform="translate(313.36,675.60) scale(1,1.0)" font-size="14.55" fill="#0b3558" stroke="#0b3558" stroke-width="0.18" text-anchor="middle">2025-02</text>
<line x1="392.82" x2="392.82" y1="660.3" y2="662.9" stroke="#2b6291" stroke-width="0.8"/>
<text transform="translate(392.82,675.60) scale(1,1.0)" font-size="14.55" fill="#0b3558" stroke="#0b3558" stroke-width="0.18" text-anchor="middle">2025-03</text>
<line x1="480.80" x2="480.80" y1="660.3" y2="662.9" stroke="#2b6291" stroke-width="0.8"/>
<text transform="translate(480.80,675.60) scale(1,1.0)" font-size="14.55" fill="#0b3558" stroke="#0b3558" stroke-width="0.18" text-anchor="middle">2025-04</text>
<line x1="565.94" x2="565.94" y1="660.3" y2="662.9" stroke="#2b6291" stroke-width="0.8"/>
<text transform="translate(565.94,675.60) scale(1,1.0)" font-size="14.55" fill="#0b3558" stroke="#0b3558" stroke-width="0.18" text-anchor="middle">2025-05</text>
<line x1="653.92" x2="653.92" y1="660.3" y2="662.9" stroke="#2b6291" stroke-width="0.8"/>
<text transform="translate(653.92,675.60) scale(1,1.0)" font-size="14.55" fill="#0b3558" stroke="#0b3558" stroke-width="0.18" text-anchor="middle">2025-06</text>
<line x1="739.06" x2="739.06" y1="660.3" y2="662.9" stroke="#2b6291" stroke-width="0.8"/>
<text transform="translate(739.06,675.60) scale(1,1.0)" font-size="14.55" fill="#0b3558" stroke="#0b3558" stroke-width="0.18" text-anchor="middle">2025-07</text>
<line x1="827.03" x2="827.03" y1="660.3" y2="662.9" stroke="#2b6291" stroke-width="0.8"/>
<text transform="translate(827.03,675.60) scale(1,1.0)" font-size="14.55" fill="#0b3558" stroke="#0b3558" stroke-width="0.18" text-anchor="middle">2025-08</text>
<line x1="915.01" x2="915.01" y1="660.3" y2="662.9" stroke="#2b6291" stroke-width="0.8"/>
<text transform="translate(915.01,675.60) scale(1,1.0)" font-size="14.55" fill="#0b3558" stroke="#0b3558" stroke-width="0.18" text-anchor="middle">2025-09</text>
<line x1="1000.15" x2="1000.15" y1="660.3" y2="662.9" stroke="#2b6291" stroke-width="0.8"/>
<text transform="translate(1000.15,675.60) scale(1,1.0)" font-size="14.55" fill="#0b3558" stroke="#0b3558" stroke-width="0.18" text-anchor="middle">2025-10</text>
<rect x="60.5" y="616.4" width="125.7" height="37.6" rx="2.5" fill="#fff" fill-opacity="0.8" stroke="#e2e2e2" stroke-width="1"/>
<line x1="65" x2="89.5" y1="625.5" y2="625.5" stroke="#420f0f" stroke-width="1.3"/>
<line x1="65" x2="89.5" y1="643" y2="643" stroke="#1b62cc" stroke-width="1.3"/>
<text transform="translate(98.50,630.00) scale(1,1.0)" font-size="11.75" fill="#0b3558" stroke="#0b3558" stroke-width="0.18" text-anchor="start">MACD</text>
<text transform="translate(98.50,647.50) scale(1,1.0)" font-size="11.75" fill="#0b3558" stroke="#0b3558" stroke-width="0.18" text-anchor="start">MACD SIGNAL</text>
</svg>
</body></html>
